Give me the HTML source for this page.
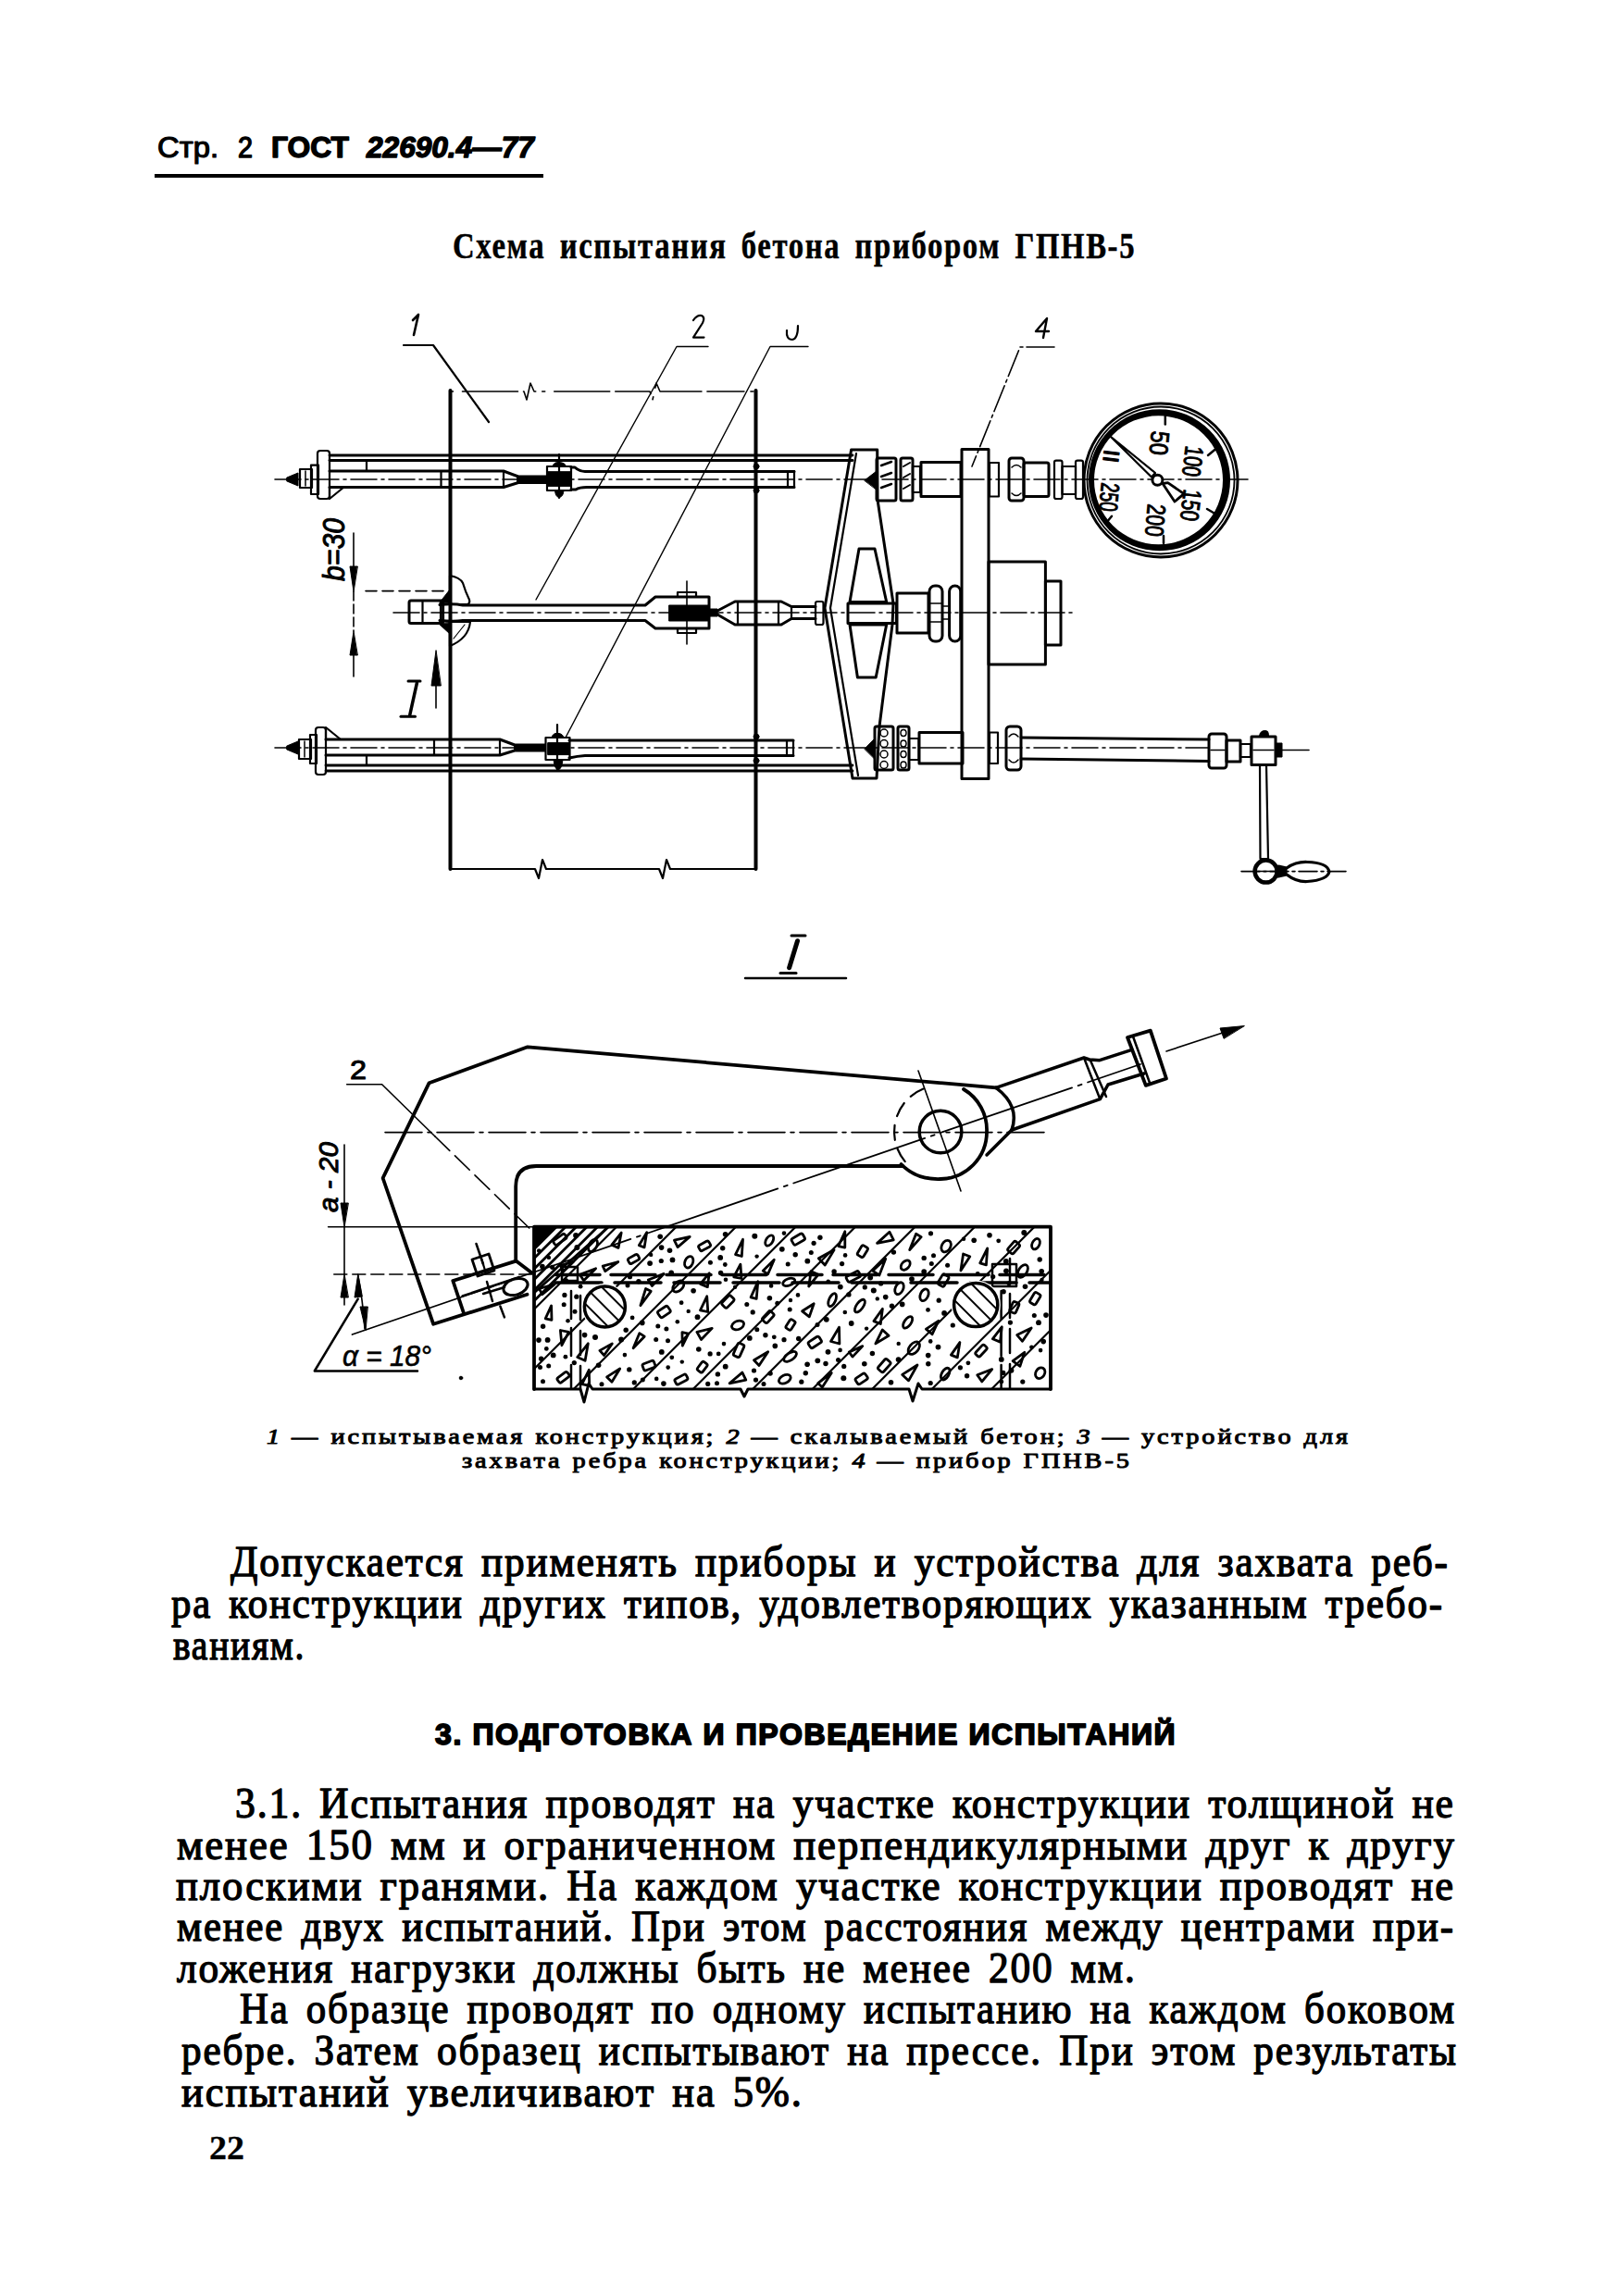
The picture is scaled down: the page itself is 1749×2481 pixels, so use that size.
<!DOCTYPE html>
<html><head><meta charset="utf-8"><style>
html,body{margin:0;padding:0;background:#fff;}
body{width:1749px;height:2481px;overflow:hidden;}
svg{display:block;}
text{fill:#000;}
</style></head><body>
<svg width="1749" height="2481" viewBox="0 0 1749 2481" stroke="#000" stroke-linecap="round" stroke-linejoin="round" fill="none">
<text transform="translate(170.0,169.5) scale(1.0568,1.0)" x="0" y="0" font-family="Liberation Sans, sans-serif" font-size="31" font-weight="normal" font-style="normal" textLength="62.5" lengthAdjust="spacing" stroke="#000" stroke-width="1.2">Стр.</text>
<text transform="translate(257.0,169.5) scale(0.9275,1.0)" x="0" y="0" font-family="Liberation Sans, sans-serif" font-size="31" font-weight="normal" font-style="normal" textLength="17.2" lengthAdjust="spacing" stroke="#000" stroke-width="1.4">2</text>
<text transform="translate(293.0,169.5) scale(1.0263,1.0)" x="0" y="0" font-family="Liberation Sans, sans-serif" font-size="31" font-weight="bold" font-style="normal" textLength="81.8" lengthAdjust="spacing" stroke="#000" stroke-width="1.4">ГОСТ</text>
<text transform="translate(396.0,169.5) scale(1.0194,1.0)" x="0" y="0" font-family="Liberation Sans, sans-serif" font-size="31" font-weight="bold" font-style="italic" textLength="177.5" lengthAdjust="spacing" stroke="#000" stroke-width="1.4">22690.4—77</text>
<line x1="167.0" y1="190.0" x2="587.0" y2="190.0" stroke-width="4" stroke-linecap="butt"/>
<text transform="translate(489.0,279.0) scale(0.8180,1.0)" x="0" y="0" font-family="Liberation Serif, serif" font-size="40" font-weight="bold" font-style="normal" textLength="120.6" lengthAdjust="spacing" stroke="#000" stroke-width="0.5">Схема</text>
<text transform="translate(604.7,279.0) scale(0.8180,1.0)" x="0" y="0" font-family="Liberation Serif, serif" font-size="40" font-weight="bold" font-style="normal" textLength="219.0" lengthAdjust="spacing" stroke="#000" stroke-width="0.5">испытания</text>
<text transform="translate(800.8,279.0) scale(0.8180,1.0)" x="0" y="0" font-family="Liberation Serif, serif" font-size="40" font-weight="bold" font-style="normal" textLength="129.4" lengthAdjust="spacing" stroke="#000" stroke-width="0.5">бетона</text>
<text transform="translate(923.6,279.0) scale(0.8180,1.0)" x="0" y="0" font-family="Liberation Serif, serif" font-size="40" font-weight="bold" font-style="normal" textLength="190.5" lengthAdjust="spacing" stroke="#000" stroke-width="0.5">прибором</text>
<text transform="translate(1096.5,279.0) scale(0.8180,1.0)" x="0" y="0" font-family="Liberation Serif, serif" font-size="40" font-weight="bold" font-style="normal" textLength="157.7" lengthAdjust="spacing" stroke="#000" stroke-width="0.5">ГПНВ-5</text>
<text transform="translate(288.0,1560.0) scale(1.1785,1.0)" x="0" y="0" font-family="Liberation Serif, serif" font-size="24" font-weight="normal" font-style="normal" textLength="47.0" lengthAdjust="spacing" stroke="#000" stroke-width="1.0"><tspan font-style="italic">1</tspan> —</text>
<text transform="translate(357.4,1560.0) scale(1.1785,1.0)" x="0" y="0" font-family="Liberation Serif, serif" font-size="24" font-weight="normal" font-style="normal" textLength="175.6" lengthAdjust="spacing" stroke="#000" stroke-width="1.0">испытываемая</text>
<text transform="translate(578.4,1560.0) scale(1.1785,1.0)" x="0" y="0" font-family="Liberation Serif, serif" font-size="24" font-weight="normal" font-style="normal" textLength="163.0" lengthAdjust="spacing" stroke="#000" stroke-width="1.0">конструкция;</text>
<text transform="translate(784.4,1560.0) scale(1.1785,1.0)" x="0" y="0" font-family="Liberation Serif, serif" font-size="24" font-weight="normal" font-style="normal" textLength="47.0" lengthAdjust="spacing" stroke="#000" stroke-width="1.0"><tspan font-style="italic">2</tspan> —</text>
<text transform="translate(853.8,1560.0) scale(1.1785,1.0)" x="0" y="0" font-family="Liberation Serif, serif" font-size="24" font-weight="normal" font-style="normal" textLength="162.4" lengthAdjust="spacing" stroke="#000" stroke-width="1.0">скалываемый</text>
<text transform="translate(1059.2,1560.0) scale(1.1785,1.0)" x="0" y="0" font-family="Liberation Serif, serif" font-size="24" font-weight="normal" font-style="normal" textLength="76.7" lengthAdjust="spacing" stroke="#000" stroke-width="1.0">бетон;</text>
<text transform="translate(1163.6,1560.0) scale(1.1785,1.0)" x="0" y="0" font-family="Liberation Serif, serif" font-size="24" font-weight="normal" font-style="normal" textLength="47.0" lengthAdjust="spacing" stroke="#000" stroke-width="1.0"><tspan font-style="italic">3</tspan> —</text>
<text transform="translate(1233.0,1560.0) scale(1.1785,1.0)" x="0" y="0" font-family="Liberation Serif, serif" font-size="24" font-weight="normal" font-style="normal" textLength="137.1" lengthAdjust="spacing" stroke="#000" stroke-width="1.0">устройство</text>
<text transform="translate(1408.6,1560.0) scale(1.1785,1.0)" x="0" y="0" font-family="Liberation Serif, serif" font-size="24" font-weight="normal" font-style="normal" textLength="40.2" lengthAdjust="spacing" stroke="#000" stroke-width="1.0">для</text>
<text transform="translate(499.0,1585.5) scale(1.1786,1.0)" x="0" y="0" font-family="Liberation Serif, serif" font-size="24" font-weight="normal" font-style="normal" textLength="89.6" lengthAdjust="spacing" stroke="#000" stroke-width="1.0">захвата</text>
<text transform="translate(618.6,1585.5) scale(1.1786,1.0)" x="0" y="0" font-family="Liberation Serif, serif" font-size="24" font-weight="normal" font-style="normal" textLength="67.5" lengthAdjust="spacing" stroke="#000" stroke-width="1.0">ребра</text>
<text transform="translate(712.2,1585.5) scale(1.1786,1.0)" x="0" y="0" font-family="Liberation Serif, serif" font-size="24" font-weight="normal" font-style="normal" textLength="164.8" lengthAdjust="spacing" stroke="#000" stroke-width="1.0">конструкции;</text>
<text transform="translate(920.4,1585.5) scale(1.1786,1.0)" x="0" y="0" font-family="Liberation Serif, serif" font-size="24" font-weight="normal" font-style="normal" textLength="47.0" lengthAdjust="spacing" stroke="#000" stroke-width="1.0"><tspan font-style="italic">4</tspan> —</text>
<text transform="translate(989.8,1585.5) scale(1.1786,1.0)" x="0" y="0" font-family="Liberation Serif, serif" font-size="24" font-weight="normal" font-style="normal" textLength="86.4" lengthAdjust="spacing" stroke="#000" stroke-width="1.0">прибор</text>
<text transform="translate(1105.6,1585.5) scale(1.1786,1.0)" x="0" y="0" font-family="Liberation Serif, serif" font-size="24" font-weight="normal" font-style="normal" textLength="97.0" lengthAdjust="spacing" stroke="#000" stroke-width="1.0">ГПНВ-5</text>
<text transform="translate(249.0,1703.0) scale(0.9397,1.0)" x="0" y="0" font-family="Liberation Serif, serif" font-size="46" font-weight="normal" font-style="normal" textLength="267.1" lengthAdjust="spacing" stroke="#000" stroke-width="1.35">Допускается</text>
<text transform="translate(520.0,1703.0) scale(0.9397,1.0)" x="0" y="0" font-family="Liberation Serif, serif" font-size="46" font-weight="normal" font-style="normal" textLength="224.6" lengthAdjust="spacing" stroke="#000" stroke-width="1.35">применять</text>
<text transform="translate(751.1,1703.0) scale(0.9397,1.0)" x="0" y="0" font-family="Liberation Serif, serif" font-size="46" font-weight="normal" font-style="normal" textLength="184.5" lengthAdjust="spacing" stroke="#000" stroke-width="1.35">приборы</text>
<text transform="translate(944.5,1703.0) scale(0.9397,1.0)" x="0" y="0" font-family="Liberation Serif, serif" font-size="46" font-weight="normal" font-style="normal" textLength="24.6" lengthAdjust="spacing" stroke="#000" stroke-width="1.35">и</text>
<text transform="translate(987.7,1703.0) scale(0.9397,1.0)" x="0" y="0" font-family="Liberation Serif, serif" font-size="46" font-weight="normal" font-style="normal" textLength="234.8" lengthAdjust="spacing" stroke="#000" stroke-width="1.35">устройства</text>
<text transform="translate(1228.3,1703.0) scale(0.9397,1.0)" x="0" y="0" font-family="Liberation Serif, serif" font-size="46" font-weight="normal" font-style="normal" textLength="71.5" lengthAdjust="spacing" stroke="#000" stroke-width="1.35">для</text>
<text transform="translate(1315.5,1703.0) scale(0.9397,1.0)" x="0" y="0" font-family="Liberation Serif, serif" font-size="46" font-weight="normal" font-style="normal" textLength="155.0" lengthAdjust="spacing" stroke="#000" stroke-width="1.35">захвата</text>
<text transform="translate(1481.2,1703.0) scale(0.9397,1.0)" x="0" y="0" font-family="Liberation Serif, serif" font-size="46" font-weight="normal" font-style="normal" textLength="88.1" lengthAdjust="spacing" stroke="#000" stroke-width="1.35">реб-</text>
<text transform="translate(185.0,1748.0) scale(0.9306,1.0)" x="0" y="0" font-family="Liberation Serif, serif" font-size="46" font-weight="normal" font-style="normal" textLength="45.4" lengthAdjust="spacing" stroke="#000" stroke-width="1.35">ра</text>
<text transform="translate(247.3,1748.0) scale(0.9306,1.0)" x="0" y="0" font-family="Liberation Serif, serif" font-size="46" font-weight="normal" font-style="normal" textLength="270.3" lengthAdjust="spacing" stroke="#000" stroke-width="1.35">конструкции</text>
<text transform="translate(518.8,1748.0) scale(0.9306,1.0)" x="0" y="0" font-family="Liberation Serif, serif" font-size="46" font-weight="normal" font-style="normal" textLength="145.3" lengthAdjust="spacing" stroke="#000" stroke-width="1.35">других</text>
<text transform="translate(674.1,1748.0) scale(0.9306,1.0)" x="0" y="0" font-family="Liberation Serif, serif" font-size="46" font-weight="normal" font-style="normal" textLength="135.6" lengthAdjust="spacing" stroke="#000" stroke-width="1.35">типов,</text>
<text transform="translate(820.2,1748.0) scale(0.9306,1.0)" x="0" y="0" font-family="Liberation Serif, serif" font-size="46" font-weight="normal" font-style="normal" textLength="385.1" lengthAdjust="spacing" stroke="#000" stroke-width="1.35">удовлетворяющих</text>
<text transform="translate(1198.6,1748.0) scale(0.9306,1.0)" x="0" y="0" font-family="Liberation Serif, serif" font-size="46" font-weight="normal" font-style="normal" textLength="228.9" lengthAdjust="spacing" stroke="#000" stroke-width="1.35">указанным</text>
<text transform="translate(1431.6,1748.0) scale(0.9306,1.0)" x="0" y="0" font-family="Liberation Serif, serif" font-size="46" font-weight="normal" font-style="normal" textLength="135.8" lengthAdjust="spacing" stroke="#000" stroke-width="1.35">требо-</text>
<text transform="translate(187.0,1793.0) scale(0.8600,1.0)" x="0" y="0" font-family="Liberation Serif, serif" font-size="46" font-weight="normal" font-style="normal" textLength="164.5" lengthAdjust="spacing" stroke="#000" stroke-width="1.35">ваниям.</text>
<text transform="translate(470.0,1884.5) scale(1.0000,1.0)" x="0" y="0" font-family="Liberation Sans, sans-serif" font-size="32" font-weight="bold" font-style="normal" textLength="799.6" lengthAdjust="spacing" stroke="#000" stroke-width="1.8">3.  ПОДГОТОВКА  И  ПРОВЕДЕНИЕ  ИСПЫТАНИЙ</text>
<text transform="translate(254.0,1963.5) scale(0.9294,1.0)" x="0" y="0" font-family="Liberation Serif, serif" font-size="47" font-weight="normal" font-style="normal" textLength="76.5" lengthAdjust="spacing" stroke="#000" stroke-width="1.35">3.1.</text>
<text transform="translate(345.1,1963.5) scale(0.9294,1.0)" x="0" y="0" font-family="Liberation Serif, serif" font-size="47" font-weight="normal" font-style="normal" textLength="241.4" lengthAdjust="spacing" stroke="#000" stroke-width="1.35">Испытания</text>
<text transform="translate(589.5,1963.5) scale(0.9294,1.0)" x="0" y="0" font-family="Liberation Serif, serif" font-size="47" font-weight="normal" font-style="normal" textLength="196.2" lengthAdjust="spacing" stroke="#000" stroke-width="1.35">проводят</text>
<text transform="translate(791.9,1963.5) scale(0.9294,1.0)" x="0" y="0" font-family="Liberation Serif, serif" font-size="47" font-weight="normal" font-style="normal" textLength="48.0" lengthAdjust="spacing" stroke="#000" stroke-width="1.35">на</text>
<text transform="translate(856.5,1963.5) scale(0.9294,1.0)" x="0" y="0" font-family="Liberation Serif, serif" font-size="47" font-weight="normal" font-style="normal" textLength="163.9" lengthAdjust="spacing" stroke="#000" stroke-width="1.35">участке</text>
<text transform="translate(1028.9,1963.5) scale(0.9294,1.0)" x="0" y="0" font-family="Liberation Serif, serif" font-size="47" font-weight="normal" font-style="normal" textLength="275.8" lengthAdjust="spacing" stroke="#000" stroke-width="1.35">конструкции</text>
<text transform="translate(1305.2,1963.5) scale(0.9294,1.0)" x="0" y="0" font-family="Liberation Serif, serif" font-size="47" font-weight="normal" font-style="normal" textLength="215.4" lengthAdjust="spacing" stroke="#000" stroke-width="1.35">толщиной</text>
<text transform="translate(1525.4,1963.5) scale(0.9294,1.0)" x="0" y="0" font-family="Liberation Serif, serif" font-size="47" font-weight="normal" font-style="normal" textLength="48.0" lengthAdjust="spacing" stroke="#000" stroke-width="1.35">не</text>
<text transform="translate(191.0,2008.5) scale(0.9544,1.0)" x="0" y="0" font-family="Liberation Serif, serif" font-size="47" font-weight="normal" font-style="normal" textLength="125.5" lengthAdjust="spacing" stroke="#000" stroke-width="1.35">менее</text>
<text transform="translate(330.8,2008.5) scale(0.9544,1.0)" x="0" y="0" font-family="Liberation Serif, serif" font-size="47" font-weight="normal" font-style="normal" textLength="74.5" lengthAdjust="spacing" stroke="#000" stroke-width="1.35">150</text>
<text transform="translate(421.9,2008.5) scale(0.9544,1.0)" x="0" y="0" font-family="Liberation Serif, serif" font-size="47" font-weight="normal" font-style="normal" textLength="61.5" lengthAdjust="spacing" stroke="#000" stroke-width="1.35">мм</text>
<text transform="translate(500.6,2008.5) scale(0.9544,1.0)" x="0" y="0" font-family="Liberation Serif, serif" font-size="47" font-weight="normal" font-style="normal" textLength="25.2" lengthAdjust="spacing" stroke="#000" stroke-width="1.35">и</text>
<text transform="translate(544.6,2008.5) scale(0.9544,1.0)" x="0" y="0" font-family="Liberation Serif, serif" font-size="47" font-weight="normal" font-style="normal" textLength="306.6" lengthAdjust="spacing" stroke="#000" stroke-width="1.35">ограниченном</text>
<text transform="translate(857.2,2008.5) scale(0.9544,1.0)" x="0" y="0" font-family="Liberation Serif, serif" font-size="47" font-weight="normal" font-style="normal" textLength="445.5" lengthAdjust="spacing" stroke="#000" stroke-width="1.35">перпендикулярными</text>
<text transform="translate(1302.4,2008.5) scale(0.9544,1.0)" x="0" y="0" font-family="Liberation Serif, serif" font-size="47" font-weight="normal" font-style="normal" textLength="95.6" lengthAdjust="spacing" stroke="#000" stroke-width="1.35">друг</text>
<text transform="translate(1413.6,2008.5) scale(0.9544,1.0)" x="0" y="0" font-family="Liberation Serif, serif" font-size="47" font-weight="normal" font-style="normal" textLength="22.8" lengthAdjust="spacing" stroke="#000" stroke-width="1.35">к</text>
<text transform="translate(1455.4,2008.5) scale(0.9544,1.0)" x="0" y="0" font-family="Liberation Serif, serif" font-size="47" font-weight="normal" font-style="normal" textLength="121.1" lengthAdjust="spacing" stroke="#000" stroke-width="1.35">другу</text>
<text transform="translate(190.0,2053.0) scale(0.9505,1.0)" x="0" y="0" font-family="Liberation Serif, serif" font-size="47" font-weight="normal" font-style="normal" textLength="211.0" lengthAdjust="spacing" stroke="#000" stroke-width="1.35">плоскими</text>
<text transform="translate(410.6,2053.0) scale(0.9505,1.0)" x="0" y="0" font-family="Liberation Serif, serif" font-size="47" font-weight="normal" font-style="normal" textLength="191.1" lengthAdjust="spacing" stroke="#000" stroke-width="1.35">гранями.</text>
<text transform="translate(612.2,2053.0) scale(0.9505,1.0)" x="0" y="0" font-family="Liberation Serif, serif" font-size="47" font-weight="normal" font-style="normal" textLength="56.8" lengthAdjust="spacing" stroke="#000" stroke-width="1.35">На</text>
<text transform="translate(686.2,2053.0) scale(0.9505,1.0)" x="0" y="0" font-family="Liberation Serif, serif" font-size="47" font-weight="normal" font-style="normal" textLength="161.7" lengthAdjust="spacing" stroke="#000" stroke-width="1.35">каждом</text>
<text transform="translate(859.9,2053.0) scale(0.9505,1.0)" x="0" y="0" font-family="Liberation Serif, serif" font-size="47" font-weight="normal" font-style="normal" textLength="163.9" lengthAdjust="spacing" stroke="#000" stroke-width="1.35">участке</text>
<text transform="translate(1035.7,2053.0) scale(0.9505,1.0)" x="0" y="0" font-family="Liberation Serif, serif" font-size="47" font-weight="normal" font-style="normal" textLength="275.8" lengthAdjust="spacing" stroke="#000" stroke-width="1.35">конструкции</text>
<text transform="translate(1317.8,2053.0) scale(0.9505,1.0)" x="0" y="0" font-family="Liberation Serif, serif" font-size="47" font-weight="normal" font-style="normal" textLength="196.2" lengthAdjust="spacing" stroke="#000" stroke-width="1.35">проводят</text>
<text transform="translate(1524.4,2053.0) scale(0.9505,1.0)" x="0" y="0" font-family="Liberation Serif, serif" font-size="47" font-weight="normal" font-style="normal" textLength="48.0" lengthAdjust="spacing" stroke="#000" stroke-width="1.35">не</text>
<text transform="translate(191.0,2097.0) scale(0.9113,1.0)" x="0" y="0" font-family="Liberation Serif, serif" font-size="47" font-weight="normal" font-style="normal" textLength="125.5" lengthAdjust="spacing" stroke="#000" stroke-width="1.35">менее</text>
<text transform="translate(325.4,2097.0) scale(0.9113,1.0)" x="0" y="0" font-family="Liberation Serif, serif" font-size="47" font-weight="normal" font-style="normal" textLength="97.5" lengthAdjust="spacing" stroke="#000" stroke-width="1.35">двух</text>
<text transform="translate(434.2,2097.0) scale(0.9113,1.0)" x="0" y="0" font-family="Liberation Serif, serif" font-size="47" font-weight="normal" font-style="normal" textLength="249.9" lengthAdjust="spacing" stroke="#000" stroke-width="1.35">испытаний.</text>
<text transform="translate(682.0,2097.0) scale(0.9113,1.0)" x="0" y="0" font-family="Liberation Serif, serif" font-size="47" font-weight="normal" font-style="normal" textLength="86.6" lengthAdjust="spacing" stroke="#000" stroke-width="1.35">При</text>
<text transform="translate(780.9,2097.0) scale(0.9113,1.0)" x="0" y="0" font-family="Liberation Serif, serif" font-size="47" font-weight="normal" font-style="normal" textLength="98.5" lengthAdjust="spacing" stroke="#000" stroke-width="1.35">этом</text>
<text transform="translate(890.6,2097.0) scale(0.9113,1.0)" x="0" y="0" font-family="Liberation Serif, serif" font-size="47" font-weight="normal" font-style="normal" textLength="240.2" lengthAdjust="spacing" stroke="#000" stroke-width="1.35">расстояния</text>
<text transform="translate(1129.5,2097.0) scale(0.9113,1.0)" x="0" y="0" font-family="Liberation Serif, serif" font-size="47" font-weight="normal" font-style="normal" textLength="138.5" lengthAdjust="spacing" stroke="#000" stroke-width="1.35">между</text>
<text transform="translate(1275.7,2097.0) scale(0.9113,1.0)" x="0" y="0" font-family="Liberation Serif, serif" font-size="47" font-weight="normal" font-style="normal" textLength="205.5" lengthAdjust="spacing" stroke="#000" stroke-width="1.35">центрами</text>
<text transform="translate(1483.0,2097.0) scale(0.9113,1.0)" x="0" y="0" font-family="Liberation Serif, serif" font-size="47" font-weight="normal" font-style="normal" textLength="95.5" lengthAdjust="spacing" stroke="#000" stroke-width="1.35">при-</text>
<text transform="translate(191.0,2142.0) scale(0.9219,1.0)" x="0" y="0" font-family="Liberation Serif, serif" font-size="47" font-weight="normal" font-style="normal" textLength="182.4" lengthAdjust="spacing" stroke="#000" stroke-width="1.35">ложения</text>
<text transform="translate(379.2,2142.0) scale(0.9219,1.0)" x="0" y="0" font-family="Liberation Serif, serif" font-size="47" font-weight="normal" font-style="normal" textLength="192.2" lengthAdjust="spacing" stroke="#000" stroke-width="1.35">нагрузки</text>
<text transform="translate(576.4,2142.0) scale(0.9219,1.0)" x="0" y="0" font-family="Liberation Serif, serif" font-size="47" font-weight="normal" font-style="normal" textLength="169.5" lengthAdjust="spacing" stroke="#000" stroke-width="1.35">должны</text>
<text transform="translate(752.6,2142.0) scale(0.9219,1.0)" x="0" y="0" font-family="Liberation Serif, serif" font-size="47" font-weight="normal" font-style="normal" textLength="103.5" lengthAdjust="spacing" stroke="#000" stroke-width="1.35">быть</text>
<text transform="translate(868.0,2142.0) scale(0.9219,1.0)" x="0" y="0" font-family="Liberation Serif, serif" font-size="47" font-weight="normal" font-style="normal" textLength="48.0" lengthAdjust="spacing" stroke="#000" stroke-width="1.35">не</text>
<text transform="translate(932.3,2142.0) scale(0.9219,1.0)" x="0" y="0" font-family="Liberation Serif, serif" font-size="47" font-weight="normal" font-style="normal" textLength="125.5" lengthAdjust="spacing" stroke="#000" stroke-width="1.35">менее</text>
<text transform="translate(1068.0,2142.0) scale(0.9219,1.0)" x="0" y="0" font-family="Liberation Serif, serif" font-size="47" font-weight="normal" font-style="normal" textLength="74.5" lengthAdjust="spacing" stroke="#000" stroke-width="1.35">200</text>
<text transform="translate(1156.6,2142.0) scale(0.9219,1.0)" x="0" y="0" font-family="Liberation Serif, serif" font-size="47" font-weight="normal" font-style="normal" textLength="75.2" lengthAdjust="spacing" stroke="#000" stroke-width="1.35">мм.</text>
<text transform="translate(259.0,2186.0) scale(0.9124,1.0)" x="0" y="0" font-family="Liberation Serif, serif" font-size="47" font-weight="normal" font-style="normal" textLength="56.8" lengthAdjust="spacing" stroke="#000" stroke-width="1.35">На</text>
<text transform="translate(330.8,2186.0) scale(0.9124,1.0)" x="0" y="0" font-family="Liberation Serif, serif" font-size="47" font-weight="normal" font-style="normal" textLength="168.4" lengthAdjust="spacing" stroke="#000" stroke-width="1.35">образце</text>
<text transform="translate(504.4,2186.0) scale(0.9124,1.0)" x="0" y="0" font-family="Liberation Serif, serif" font-size="47" font-weight="normal" font-style="normal" textLength="196.2" lengthAdjust="spacing" stroke="#000" stroke-width="1.35">проводят</text>
<text transform="translate(703.5,2186.0) scale(0.9124,1.0)" x="0" y="0" font-family="Liberation Serif, serif" font-size="47" font-weight="normal" font-style="normal" textLength="50.7" lengthAdjust="spacing" stroke="#000" stroke-width="1.35">по</text>
<text transform="translate(769.7,2186.0) scale(0.9124,1.0)" x="0" y="0" font-family="Liberation Serif, serif" font-size="47" font-weight="normal" font-style="normal" textLength="157.1" lengthAdjust="spacing" stroke="#000" stroke-width="1.35">одному</text>
<text transform="translate(933.0,2186.0) scale(0.9124,1.0)" x="0" y="0" font-family="Liberation Serif, serif" font-size="47" font-weight="normal" font-style="normal" textLength="246.1" lengthAdjust="spacing" stroke="#000" stroke-width="1.35">испытанию</text>
<text transform="translate(1177.6,2186.0) scale(0.9124,1.0)" x="0" y="0" font-family="Liberation Serif, serif" font-size="47" font-weight="normal" font-style="normal" textLength="48.0" lengthAdjust="spacing" stroke="#000" stroke-width="1.35">на</text>
<text transform="translate(1241.4,2186.0) scale(0.9124,1.0)" x="0" y="0" font-family="Liberation Serif, serif" font-size="47" font-weight="normal" font-style="normal" textLength="161.7" lengthAdjust="spacing" stroke="#000" stroke-width="1.35">каждом</text>
<text transform="translate(1409.0,2186.0) scale(0.9124,1.0)" x="0" y="0" font-family="Liberation Serif, serif" font-size="47" font-weight="normal" font-style="normal" textLength="177.6" lengthAdjust="spacing" stroke="#000" stroke-width="1.35">боковом</text>
<text transform="translate(196.0,2231.0) scale(0.9192,1.0)" x="0" y="0" font-family="Liberation Serif, serif" font-size="47" font-weight="normal" font-style="normal" textLength="134.4" lengthAdjust="spacing" stroke="#000" stroke-width="1.35">ребре.</text>
<text transform="translate(339.5,2231.0) scale(0.9192,1.0)" x="0" y="0" font-family="Liberation Serif, serif" font-size="47" font-weight="normal" font-style="normal" textLength="122.3" lengthAdjust="spacing" stroke="#000" stroke-width="1.35">Затем</text>
<text transform="translate(472.0,2231.0) scale(0.9192,1.0)" x="0" y="0" font-family="Liberation Serif, serif" font-size="47" font-weight="normal" font-style="normal" textLength="168.4" lengthAdjust="spacing" stroke="#000" stroke-width="1.35">образец</text>
<text transform="translate(646.7,2231.0) scale(0.9192,1.0)" x="0" y="0" font-family="Liberation Serif, serif" font-size="47" font-weight="normal" font-style="normal" textLength="270.3" lengthAdjust="spacing" stroke="#000" stroke-width="1.35">испытывают</text>
<text transform="translate(915.2,2231.0) scale(0.9192,1.0)" x="0" y="0" font-family="Liberation Serif, serif" font-size="47" font-weight="normal" font-style="normal" textLength="48.0" lengthAdjust="spacing" stroke="#000" stroke-width="1.35">на</text>
<text transform="translate(979.3,2231.0) scale(0.9192,1.0)" x="0" y="0" font-family="Liberation Serif, serif" font-size="47" font-weight="normal" font-style="normal" textLength="157.6" lengthAdjust="spacing" stroke="#000" stroke-width="1.35">прессе.</text>
<text transform="translate(1144.2,2231.0) scale(0.9192,1.0)" x="0" y="0" font-family="Liberation Serif, serif" font-size="47" font-weight="normal" font-style="normal" textLength="86.6" lengthAdjust="spacing" stroke="#000" stroke-width="1.35">При</text>
<text transform="translate(1243.8,2231.0) scale(0.9192,1.0)" x="0" y="0" font-family="Liberation Serif, serif" font-size="47" font-weight="normal" font-style="normal" textLength="98.5" lengthAdjust="spacing" stroke="#000" stroke-width="1.35">этом</text>
<text transform="translate(1354.3,2231.0) scale(0.9192,1.0)" x="0" y="0" font-family="Liberation Serif, serif" font-size="47" font-weight="normal" font-style="normal" textLength="237.9" lengthAdjust="spacing" stroke="#000" stroke-width="1.35">результаты</text>
<text transform="translate(196.0,2276.0) scale(0.9476,1.0)" x="0" y="0" font-family="Liberation Serif, serif" font-size="47" font-weight="normal" font-style="normal" textLength="236.2" lengthAdjust="spacing" stroke="#000" stroke-width="1.35">испытаний</text>
<text transform="translate(439.8,2276.0) scale(0.9476,1.0)" x="0" y="0" font-family="Liberation Serif, serif" font-size="47" font-weight="normal" font-style="normal" textLength="281.1" lengthAdjust="spacing" stroke="#000" stroke-width="1.35">увеличивают</text>
<text transform="translate(726.2,2276.0) scale(0.9476,1.0)" x="0" y="0" font-family="Liberation Serif, serif" font-size="47" font-weight="normal" font-style="normal" textLength="48.0" lengthAdjust="spacing" stroke="#000" stroke-width="1.35">на</text>
<text transform="translate(791.7,2276.0) scale(0.9476,1.0)" x="0" y="0" font-family="Liberation Serif, serif" font-size="47" font-weight="normal" font-style="normal" textLength="78.4" lengthAdjust="spacing" stroke="#000" stroke-width="1.35">5%.</text>
<text transform="translate(226.0,2333.0) scale(1.0857,1.0)" x="0" y="0" font-family="Liberation Serif, serif" font-size="35" font-weight="bold" font-style="normal" textLength="35.0" lengthAdjust="spacing" stroke="#000" stroke-width="0.3">22</text>
<line x1="486.5" y1="422.0" x2="486.5" y2="939.0" stroke-width="4" />
<line x1="816.5" y1="422.0" x2="816.5" y2="939.0" stroke-width="4" />
<path d="M486.5,423 L566,423 L569,432 L573,414 L577,423 L702,423 L705,432 L709,414 L713,423 L816.5,423" stroke-width="1.6" fill="none" stroke-dasharray="3 10 60 6 40 7"/>
<path d="M486.5,939 L578,939 L582,949 L586,929 L590,939 L712,939 L716,949 L720,929 L724,939 L816.5,939" stroke-width="2.2" fill="none" />
<path d="M446,346 L452,340 L447,362" stroke-width="2.6" fill="none" />
<path d="M436,373 L468,373 L528,456" stroke-width="2.2" fill="none" />
<path d="M749,346 Q753,340 758,341 Q762,343 759,349 L749,364.6 L760.5,364.6" stroke-width="2.2" fill="none" />
<path d="M765,374.5 L731,374.5 L579,648" stroke-width="1.4" fill="none" />
<path d="M850,357 Q849,367 856,367 Q862,366 862,352" stroke-width="2.2" fill="none" />
<path d="M873,374.5 L832,374.5 L611,797" stroke-width="1.4" fill="none" />
<path d="M1127,365 L1131,344 L1119,358 L1133,358" stroke-width="2.4" fill="none" />
<path d="M1139,375 L1102,375 L1050,504" stroke-width="1.6" fill="none" stroke-dasharray="30 4 3 4"/>
<text x="0" y="0" font-family="Liberation Sans, sans-serif" font-size="34" font-style="italic" transform="translate(372,628) rotate(-90)" textLength="68" lengthAdjust="spacingAndGlyphs">b=30</text>
<line x1="382.0" y1="576.0" x2="382.0" y2="614.0" stroke-width="1.6" />
<polygon points="382.0,639.0 378.0,612.0 386.0,612.0" stroke-width="1" fill="#000" />
<line x1="382.0" y1="639.0" x2="382.0" y2="682.0" stroke-width="1.6" stroke-dasharray="10 4"/>
<polygon points="382.0,682.5 378.0,708.0 386.0,708.0" stroke-width="1" fill="#000" />
<line x1="382.0" y1="708.0" x2="382.0" y2="731.0" stroke-width="1.6" />
<line x1="395.0" y1="638.6" x2="483.0" y2="638.6" stroke-width="1.6" stroke-dasharray="12 6"/>
<line x1="471.0" y1="740.0" x2="471.0" y2="765.0" stroke-width="1.6" />
<polygon points="471.0,703.0 466.0,741.0 476.0,741.0" stroke-width="1" fill="#000" />
<line x1="441.0" y1="736.0" x2="454.0" y2="736.0" stroke-width="3" />
<line x1="450.4" y1="738.0" x2="442.8" y2="772.3" stroke-width="3.5" />
<line x1="433.0" y1="774.3" x2="448.5" y2="774.3" stroke-width="3" />
<line x1="297.0" y1="518.0" x2="1348.0" y2="518.0" stroke-width="1.6" stroke-dasharray="28 5 3 5"/>
<polygon points="310.0,516.0 322.0,511.0 322.0,525.0 310.0,520.0" stroke-width="1" fill="#000" />
<rect x="324.0" y="507.0" width="13.0" height="20.0" rx="0" stroke-width="2.2" fill="none" />
<rect x="336.0" y="502.6" width="8.0" height="31.4" rx="0" stroke-width="2.2" fill="none" />
<line x1="330.0" y1="509.0" x2="330.0" y2="525.0" stroke-width="1.5" />
<rect x="343.0" y="487.0" width="13.0" height="52.0" rx="3" stroke-width="2.2" fill="none" />
<polygon points="356.0,526.0 372.0,526.0 356.0,539.0" stroke-width="2.2" fill="none" />
<line x1="356.0" y1="492.0" x2="921.0" y2="492.0" stroke-width="2.8" />
<line x1="356.0" y1="497.5" x2="921.0" y2="497.5" stroke-width="2.8" />
<line x1="396.0" y1="497.5" x2="396.0" y2="509.0" stroke-width="2.2" />
<path d="M356,509 L544,509 L560,515 L591,515 M356,526.5 L544,526.5 L560,521.5 L591,521.5" stroke-width="3.0" fill="none" />
<line x1="476.5" y1="509.0" x2="476.5" y2="526.5" stroke-width="2.2" />
<line x1="544.0" y1="509.0" x2="544.0" y2="526.5" stroke-width="2.2" />
<rect x="559.0" y="514.5" width="32.0" height="7.5" rx="0" stroke-width="1" fill="#000" />
<rect x="591.0" y="504.0" width="26.0" height="26.0" rx="0" stroke-width="2.2" fill="#fff" />
<rect x="592.0" y="509.7" width="25.0" height="15.7" rx="0" stroke-width="1" fill="#000" />
<path d="M597,504 Q598,499 604,499.5 Q611,500 611.5,504 Z" stroke-width="1" fill="#000" />
<path d="M599.5,530 Q600,537 604,537.5 Q608.5,537 609,530 Z" stroke-width="1" fill="#000" />
<line x1="604.0" y1="491.0" x2="604.0" y2="538.0" stroke-width="2.2" />
<path d="M617,505 L621,505 Q625,509 632,509.5 L858,509.5 M617,529 L622,529 Q626,526.5 634,526.5 L858,526.5" stroke-width="3.0" fill="none" />
<rect x="851.0" y="509.0" width="7.0" height="17.0" rx="0" stroke-width="2.2" fill="none" />
<circle cx="817.0" cy="504.0" r="3.0" stroke-width="1" fill="#000" />
<circle cx="817.0" cy="530.0" r="3.0" stroke-width="1" fill="#000" />
<line x1="425.0" y1="662.0" x2="1161.0" y2="662.0" stroke-width="1.6" stroke-dasharray="28 5 3 5"/>
<rect x="442.0" y="649.0" width="36.6" height="24.5" rx="2" stroke-width="3.0" fill="none" />
<line x1="456.5" y1="649.0" x2="456.5" y2="673.5" stroke-width="2.2" />
<line x1="476.0" y1="649.0" x2="476.0" y2="673.5" stroke-width="2.2" />
<polygon points="475.0,651.0 486.0,637.0 486.0,652.0" stroke-width="1" fill="#000" />
<polygon points="474.0,674.0 486.0,685.0 486.0,673.0" stroke-width="1" fill="#000" />
<path d="M486,622 Q497,624 500,630 Q503,640 507,648 Q508,652 505,653 L486,653 Z" stroke-width="2.2" fill="none" />
<path d="M486,672 L508,672 Q506,690 486,698 Z" stroke-width="2.2" fill="none" />
<line x1="490.0" y1="690.0" x2="502.0" y2="675.0" stroke-width="1.2" />
<path d="M475,653.5 Q490,652 500,654 L697,654 L708,645 L766,645 L766,679 L708,679 L697,670.5 L500,670.5 Q490,672 475,670.5" stroke-width="3.0" fill="none" />
<rect x="723.0" y="654.0" width="43.0" height="17.0" rx="0" stroke-width="1" fill="#000" />
<rect x="732.0" y="640.0" width="20.0" height="5.0" rx="0" stroke-width="2.2" fill="none" />
<rect x="732.0" y="679.0" width="20.0" height="5.0" rx="0" stroke-width="2.2" fill="none" />
<line x1="742.0" y1="628.0" x2="742.0" y2="696.0" stroke-width="1.6" />
<rect x="766.0" y="658.0" width="9.0" height="8.0" rx="0" stroke-width="1" fill="#000" />
<path d="M775,660 L794,650 L844,650 L855,655.5 L881,655.5 M775,664 L794,675 L844,675 L855,668.5 L881,668.5" stroke-width="3.0" fill="none" />
<line x1="797.0" y1="650.0" x2="797.0" y2="675.0" stroke-width="2.2" />
<line x1="841.0" y1="650.0" x2="841.0" y2="675.0" stroke-width="2.2" />
<line x1="855.0" y1="655.5" x2="855.0" y2="668.5" stroke-width="2.2" />
<rect x="881.0" y="650.0" width="8.5" height="25.0" rx="2" stroke-width="2.2" fill="none" />
<line x1="297.0" y1="808.0" x2="1306.0" y2="808.0" stroke-width="1.6" stroke-dasharray="28 5 3 5"/>
<polygon points="310.0,806.0 322.0,801.0 322.0,815.0 310.0,810.0" stroke-width="1" fill="#000" />
<rect x="323.0" y="799.0" width="13.0" height="21.0" rx="0" stroke-width="2.2" fill="none" />
<rect x="335.0" y="794.0" width="7.0" height="31.0" rx="0" stroke-width="2.2" fill="none" />
<line x1="329.0" y1="801.0" x2="329.0" y2="818.0" stroke-width="1.5" />
<rect x="341.0" y="786.0" width="11.0" height="51.0" rx="3" stroke-width="2.2" fill="none" />
<polygon points="352.0,786.0 368.0,799.0 352.0,799.0" stroke-width="2.2" fill="none" />
<line x1="352.0" y1="827.0" x2="921.0" y2="827.0" stroke-width="2.8" />
<line x1="352.0" y1="833.0" x2="921.0" y2="833.0" stroke-width="2.8" />
<line x1="396.0" y1="816.0" x2="396.0" y2="827.0" stroke-width="2.2" />
<path d="M352,799 L540,799 L556,805 L589,805 M352,816 L540,816 L556,811 L589,811" stroke-width="3.0" fill="none" />
<line x1="469.0" y1="799.0" x2="469.0" y2="816.0" stroke-width="2.2" />
<line x1="540.0" y1="799.0" x2="540.0" y2="816.0" stroke-width="2.2" />
<rect x="556.0" y="804.5" width="34.0" height="7.0" rx="0" stroke-width="1" fill="#000" />
<rect x="589.5" y="797.0" width="26.0" height="24.0" rx="0" stroke-width="2.2" fill="#fff" />
<rect x="592.0" y="802.6" width="23.5" height="13.0" rx="0" stroke-width="1" fill="#000" />
<path d="M596,797 Q597,792 602.5,792.4 Q608,792.5 609,797 Z" stroke-width="1" fill="#000" />
<path d="M598,821 Q599,831 603,832 Q607,831 608,821 Z" stroke-width="1" fill="#000" />
<line x1="602.0" y1="783.0" x2="602.0" y2="833.0" stroke-width="2.2" />
<path d="M615,800 Q624,800 630,800 L857,800 M615,819 Q624,817 632,816.5 L857,816.5" stroke-width="3.0" fill="none" />
<rect x="850.0" y="800.0" width="7.0" height="16.5" rx="0" stroke-width="2.2" fill="none" />
<circle cx="817.0" cy="796.0" r="3.0" stroke-width="1" fill="#000" />
<circle cx="817.0" cy="822.0" r="3.0" stroke-width="1" fill="#000" />
<polygon points="919.6,486.0 947.7,486.0 948.0,540.0 965.0,652.0 964.0,675.0 950.0,785.0 947.0,841.0 921.0,841.0 891.0,657.0" stroke-width="3.0" fill="none" />
<path d="M925,490 L897,657 L927,838" stroke-width="2.2" fill="none" />
<polygon points="928.0,593.0 945.0,593.0 957.7,650.5 918.0,650.5" stroke-width="3.0" fill="none" />
<polygon points="918.0,675.0 957.7,675.0 946.2,732.0 926.4,732.0" stroke-width="3.0" fill="none" />
<rect x="916.0" y="652.0" width="52.4" height="21.6" rx="0" stroke-width="3.0" fill="none" />
<polygon points="934.0,519.0 947.0,509.0 947.0,529.0" stroke-width="1" fill="#000" />
<rect x="947.0" y="495.0" width="21.0" height="46.0" rx="2" stroke-width="3.0" fill="none" />
<line x1="952.0" y1="503.0" x2="963.0" y2="499.0" stroke-width="2.5" />
<line x1="952.0" y1="515.0" x2="963.0" y2="511.0" stroke-width="2.5" />
<line x1="952.0" y1="527.0" x2="963.0" y2="523.0" stroke-width="2.5" />
<rect x="973.0" y="495.0" width="13.0" height="46.0" rx="2" stroke-width="3.0" fill="none" />
<line x1="976.0" y1="504.0" x2="983.0" y2="500.0" stroke-width="2" />
<line x1="976.0" y1="516.0" x2="983.0" y2="512.0" stroke-width="2" />
<line x1="976.0" y1="528.0" x2="983.0" y2="524.0" stroke-width="2" />
<rect x="986.0" y="504.0" width="8.0" height="28.0" rx="0" stroke-width="2.2" fill="none" />
<rect x="995.0" y="499.5" width="43.0" height="37.0" rx="0" stroke-width="3.0" fill="none" />
<rect x="1069.0" y="500.0" width="10.0" height="36.5" rx="0" stroke-width="2.2" fill="none" />
<rect x="1090.0" y="495.0" width="16.0" height="46.0" rx="3" stroke-width="3.0" fill="none" />
<path d="M1093,505 Q1098,500 1103,505 M1093,533 Q1098,538 1103,533" stroke-width="1.5" fill="none" />
<rect x="1106.0" y="500.0" width="27.0" height="36.5" rx="2" stroke-width="3.0" fill="none" />
<rect x="1139.0" y="497.6" width="8.5" height="41.4" rx="2" stroke-width="2.2" fill="none" />
<rect x="1147.5" y="504.0" width="14.5" height="30.0" rx="0" stroke-width="2.2" fill="none" />
<rect x="1162.0" y="497.6" width="8.0" height="41.4" rx="2" stroke-width="2.2" fill="none" />
<rect x="1039.0" y="485.6" width="29.0" height="355.9" rx="0" stroke-width="3.0" fill="none" />
<circle cx="1254.0" cy="519.0" r="83.0" stroke-width="3" fill="none" />
<circle cx="1254.0" cy="519.0" r="79.5" stroke-width="1.8" fill="none" />
<path d="M1329,518.8 A76.5,76.5 0 1,0 1176,518.8 A76.5,76.5 0 1,0 1329,518.8 Z M1321,518.8 A69.5,69.5 0 1,0 1182,518.8 A69.5,69.5 0 1,0 1321,518.8 Z" stroke-width="0" fill="#000" fill-rule="evenodd" stroke="none"/>
<line x1="1258.8" y1="449.0" x2="1258.8" y2="458.5" stroke-width="2.5" />
<line x1="1305.0" y1="492.0" x2="1313.5" y2="485.0" stroke-width="2.5" />
<line x1="1304.0" y1="550.0" x2="1312.5" y2="555.0" stroke-width="2.5" />
<line x1="1257.0" y1="579.0" x2="1257.0" y2="587.0" stroke-width="2.5" />
<line x1="1195.0" y1="565.0" x2="1201.0" y2="557.7" stroke-width="2.5" />
<polygon points="1199.5,471.5 1248.0,511.0 1244.0,515.5" stroke-width="2.2" fill="#fff" />
<polygon points="1256.0,522.5 1261.6,521.6 1279.0,533.6 1269.0,542.0" stroke-width="2.8" fill="#fff" />
<circle cx="1250.4" cy="518.8" r="5.5" stroke-width="3" fill="#fff" />
<text x="0" y="0" font-family="Liberation Sans, sans-serif" font-size="28" stroke="#000" stroke-width="1.0" transform="translate(1244,465) rotate(95)" textLength="26" lengthAdjust="spacingAndGlyphs">50</text>
<text x="0" y="0" font-family="Liberation Sans, sans-serif" font-size="28" stroke="#000" stroke-width="1.0" transform="translate(1281,481) rotate(97)" textLength="33" lengthAdjust="spacingAndGlyphs">100</text>
<text x="0" y="0" font-family="Liberation Sans, sans-serif" font-size="28" stroke="#000" stroke-width="1.0" transform="translate(1279,528) rotate(97)" textLength="34" lengthAdjust="spacingAndGlyphs">150</text>
<text x="0" y="0" font-family="Liberation Sans, sans-serif" font-size="28" stroke="#000" stroke-width="1.0" transform="translate(1240,544) rotate(95)" textLength="35" lengthAdjust="spacingAndGlyphs">200</text>
<text x="0" y="0" font-family="Liberation Sans, sans-serif" font-size="28" stroke="#000" stroke-width="1.0" transform="translate(1190,521) rotate(95)" textLength="31" lengthAdjust="spacingAndGlyphs">250</text>
<text x="0" y="0" font-family="Liberation Sans, sans-serif" font-size="24" stroke="#000" stroke-width="1.0" transform="translate(1193,485) rotate(97)" textLength="14" lengthAdjust="spacingAndGlyphs">II</text>
<rect x="969.0" y="641.0" width="34.0" height="43.0" rx="0" stroke-width="3.0" fill="none" />
<rect x="1004.0" y="633.0" width="14.0" height="60.0" rx="6" stroke-width="3.0" fill="none" />
<line x1="1005.0" y1="652.0" x2="1017.0" y2="652.0" stroke-width="1.5" />
<line x1="1005.0" y1="672.0" x2="1017.0" y2="672.0" stroke-width="1.5" />
<rect x="1025.6" y="633.0" width="12.1" height="60.0" rx="6" stroke-width="3.0" fill="none" />
<line x1="1019.0" y1="655.0" x2="1025.0" y2="655.0" stroke-width="1.5" />
<line x1="1019.0" y1="669.0" x2="1025.0" y2="669.0" stroke-width="1.5" />
<rect x="1068.0" y="607.0" width="61.4" height="111.0" rx="0" stroke-width="3.0" fill="none" />
<rect x="1129.4" y="628.0" width="16.6" height="69.0" rx="0" stroke-width="3.0" fill="none" />
<polygon points="934.0,809.0 945.0,798.0 945.0,820.0" stroke-width="1" fill="#000" />
<rect x="945.0" y="785.0" width="20.0" height="47.0" rx="2" stroke-width="3.0" fill="none" />
<ellipse cx="955.0" cy="792.0" rx="4.0" ry="4.0" stroke-width="1.5" fill="none" />
<ellipse cx="955.0" cy="803.5" rx="4.0" ry="4.0" stroke-width="1.5" fill="none" />
<ellipse cx="955.0" cy="815.0" rx="4.0" ry="4.0" stroke-width="1.5" fill="none" />
<ellipse cx="955.0" cy="826.5" rx="4.0" ry="4.0" stroke-width="1.5" fill="none" />
<rect x="970.0" y="785.0" width="12.0" height="47.0" rx="2" stroke-width="3.0" fill="none" />
<ellipse cx="976.0" cy="792.0" rx="3.0" ry="3.5" stroke-width="1.5" fill="none" />
<ellipse cx="976.0" cy="803.5" rx="3.0" ry="3.5" stroke-width="1.5" fill="none" />
<ellipse cx="976.0" cy="815.0" rx="3.0" ry="3.5" stroke-width="1.5" fill="none" />
<ellipse cx="976.0" cy="826.5" rx="3.0" ry="3.5" stroke-width="1.5" fill="none" />
<rect x="982.0" y="798.0" width="10.5" height="23.0" rx="0" stroke-width="2.2" fill="none" />
<rect x="993.0" y="791.5" width="47.0" height="33.5" rx="0" stroke-width="3.0" fill="none" />
<rect x="1069.0" y="791.5" width="9.0" height="33.5" rx="0" stroke-width="2.2" fill="none" />
<rect x="1087.0" y="785.0" width="16.0" height="47.0" rx="4" stroke-width="3.0" fill="none" />
<path d="M1090,796 Q1095,790 1100,796 M1090,821 Q1095,827 1100,821" stroke-width="1.5" fill="none" />
<path d="M1103,797 L1306,799 M1103,820 L1306,822.5" stroke-width="3.0" fill="none" />
<rect x="1306.0" y="793.0" width="19.0" height="37.0" rx="3" stroke-width="3.0" fill="none" />
<line x1="1308.0" y1="810.5" x2="1323.0" y2="810.5" stroke-width="1.5" />
<rect x="1325.0" y="800.0" width="15.0" height="23.0" rx="0" stroke-width="3.0" fill="none" />
<rect x="1340.0" y="804.0" width="11.0" height="14.0" rx="0" stroke-width="2.2" fill="none" />
<rect x="1352.0" y="796.0" width="26.0" height="30.5" rx="0" stroke-width="3.0" fill="none" />
<line x1="1354.0" y1="810.5" x2="1376.0" y2="810.5" stroke-width="1.5" />
<rect x="1378.0" y="803.0" width="7.0" height="15.0" rx="0" stroke-width="1" fill="#000" />
<path d="M1361,795 Q1362,790 1367,790 Q1370,790 1370,795 Z" stroke-width="2" fill="#000" />
<line x1="1385.0" y1="810.5" x2="1414.0" y2="810.5" stroke-width="1.6" />
<polygon points="1361.0,826.0 1368.0,826.0 1370.0,928.0 1361.5,928.0" stroke-width="2.2" fill="none" />
<circle cx="1367.6" cy="941.6" r="12.0" stroke-width="4.5" fill="none" />
<line x1="1355.0" y1="941.6" x2="1380.0" y2="941.6" stroke-width="1.5" />
<path d="M1381,936 L1390,938 Q1400,931 1412,931.5 Q1434,932 1436,942 Q1434,951 1412,952.5 Q1400,953 1390,945 L1381,947 Z" stroke-width="3.2" fill="none" />
<polygon points="1381.0,936.0 1390.0,938.0 1390.0,945.0 1381.0,947.0" stroke-width="1" fill="#000" />
<line x1="1341.0" y1="941.6" x2="1456.0" y2="941.6" stroke-width="1.6" stroke-dasharray="20 4 3 4"/>
<line x1="855.0" y1="1011.0" x2="870.0" y2="1011.0" stroke-width="3" />
<path d="M861.5,1016.7 L852.6,1045.8" stroke-width="5" fill="none" />
<line x1="843.0" y1="1051.5" x2="860.0" y2="1051.5" stroke-width="3" />
<line x1="805.0" y1="1057.0" x2="914.0" y2="1057.0" stroke-width="2.5" />
<path d="M1076,1175.4 L570,1131.3 L463.6,1170.2 L413.6,1273 L468.2,1430.8 L569.5,1398.7" stroke-width="3.8" fill="none" />
<path d="M557.2,1362 L557.2,1282 Q557.2,1260 579.4,1260 L975,1260" stroke-width="3.8" fill="none" />
<path d="M557.5,1362.6 L489.3,1384 L501,1419" stroke-width="3.8" fill="none" />
<path d="M557.5,1362.6 L574,1375" stroke-width="3.8" fill="none" />
<line x1="499.6" y1="1400.4" x2="561.0" y2="1380.0" stroke-width="2.5" />
<ellipse cx="557" cy="1390.5" rx="13.5" ry="8.5" transform="rotate(-18 557 1390.5)" stroke-width="3" fill="none"/>
<line x1="526.0" y1="1385.0" x2="532.0" y2="1406.0" stroke-width="2.5" />
<line x1="522.0" y1="1398.0" x2="545.0" y2="1391.0" stroke-width="2.5" />
<polygon points="510.0,1361.0 528.0,1355.0 534.0,1373.0 516.0,1379.0" stroke-width="2.8" fill="none" />
<line x1="519.5" y1="1358.0" x2="525.0" y2="1376.0" stroke-width="2.2" />
<line x1="514.5" y1="1344.0" x2="522.0" y2="1366.0" stroke-width="2.5" />
<line x1="540.4" y1="1411.5" x2="544.9" y2="1423.4" stroke-width="2.5" />
<circle cx="1016.0" cy="1223.0" r="22.8" stroke-width="3.5" fill="none" />
<path d="M973.5,1258 Q990,1275 1016,1274 A51,51 0 0,0 1066,1223 A51,51 0 0,0 1041,1177" stroke-width="3.8" fill="none" />
<path d="M977.7,1255.1 A50,50 0 0,1 1003.1,1174.7" stroke-width="2.2" fill="none" stroke-dasharray="16 10"/>
<line x1="1066.0" y1="1248.0" x2="1093.0" y2="1221.0" stroke-width="3.5" />
<line x1="992.0" y1="1157.0" x2="1038.0" y2="1287.0" stroke-width="1.6" />
<path d="M1076,1175.4 Q1102,1195 1093,1221" stroke-width="3.5" fill="none" />
<path d="M1076,1175.4 L1171,1143 L1177,1145 L1188,1145.7 L1222,1134.6" stroke-width="3.5" fill="none" />
<path d="M1093,1221 L1188.4,1187.7 L1197,1172 L1236,1160" stroke-width="3.5" fill="none" />
<line x1="1171.0" y1="1143.0" x2="1188.4" y2="1187.7" stroke-width="2.5" />
<line x1="1178.0" y1="1146.0" x2="1195.0" y2="1185.0" stroke-width="2.5" />
<polygon points="1218.0,1121.0 1242.8,1113.6 1260.0,1165.5 1237.8,1172.9" stroke-width="3.8" fill="none" />
<line x1="1224.0" y1="1120.0" x2="1242.0" y2="1170.0" stroke-width="2.5" />
<line x1="380.5" y1="1442.0" x2="1232.0" y2="1150.0" stroke-width="1.8" stroke-dasharray="150 7 4 7"/>
<line x1="1260.0" y1="1136.0" x2="1330.0" y2="1113.0" stroke-width="1.6" />
<polygon points="1344.0,1108.6 1318.0,1111.0 1322.0,1122.0" stroke-width="1" fill="#000" />
<line x1="416.0" y1="1223.6" x2="1129.0" y2="1223.6" stroke-width="1.6" stroke-dasharray="40 6 4 6"/>
<text x="378.0" y="1165.6" font-family="Liberation Sans, sans-serif" font-size="30" font-weight="normal" font-style="normal" textLength="18.0" lengthAdjust="spacingAndGlyphs" >2</text>
<path d="M374.7,1171.7 L412.6,1171.7 L470,1228" stroke-width="1.6" fill="none" />
<line x1="470.0" y1="1228.0" x2="583.0" y2="1338.0" stroke-width="1.6" stroke-dasharray="22 8"/>
<text x="0" y="0" font-family="Liberation Sans, sans-serif" font-size="30" font-style="italic" transform="translate(365,1310) rotate(-90)" textLength="76" lengthAdjust="spacingAndGlyphs">a - 20</text>
<line x1="372.0" y1="1237.0" x2="372.0" y2="1300.0" stroke-width="1.6" />
<polygon points="372.0,1325.8 368.0,1300.0 376.0,1300.0" stroke-width="1" fill="#000" />
<line x1="372.0" y1="1325.8" x2="372.0" y2="1377.0" stroke-width="1.6" />
<polygon points="372.0,1377.0 368.0,1402.0 376.0,1402.0" stroke-width="1" fill="#000" />
<line x1="372.0" y1="1402.0" x2="372.0" y2="1410.0" stroke-width="1.6" />
<line x1="354.6" y1="1325.8" x2="577.0" y2="1325.8" stroke-width="1.6" />
<line x1="360.8" y1="1377.0" x2="577.0" y2="1377.0" stroke-width="1.6" stroke-dasharray="14 6"/>
<path d="M386.7,1378 Q392,1405 394,1436" stroke-width="1.6" fill="none" />
<polygon points="386.7,1377.0 383.0,1402.0 391.0,1401.0" stroke-width="1" fill="#000" />
<polygon points="395.0,1437.0 389.0,1412.0 397.0,1412.0" stroke-width="1" fill="#000" />
<path d="M386.7,1403.6 L339.8,1481.5 L451,1481.5" stroke-width="2.5" fill="none" />
<text x="370.0" y="1476.0" font-family="Liberation Sans, sans-serif" font-size="32" font-weight="normal" font-style="italic" textLength="96.0" lengthAdjust="spacingAndGlyphs" stroke="#000" stroke-width="0.6">α = 18°</text>
<circle cx="498.0" cy="1489.0" r="1.8" stroke-width="1" fill="#000" />
<defs><clipPath id="blk"><rect x="577" y="1325.7" width="558" height="175.3"/></clipPath></defs>
<g clip-path="url(#blk)">
<line x1="408.0" y1="1325.7" x2="232.7" y2="1501.0" stroke-width="2.2" />
<line x1="472.5" y1="1325.7" x2="297.2" y2="1501.0" stroke-width="2.2" />
<line x1="537.0" y1="1325.7" x2="361.7" y2="1501.0" stroke-width="2.2" />
<line x1="601.5" y1="1325.7" x2="426.2" y2="1501.0" stroke-width="2.2" />
<line x1="666.0" y1="1325.7" x2="490.7" y2="1501.0" stroke-width="2.2" />
<line x1="730.5" y1="1325.7" x2="555.2" y2="1501.0" stroke-width="2.2" />
<line x1="795.0" y1="1325.7" x2="619.7" y2="1501.0" stroke-width="2.2" />
<line x1="859.5" y1="1325.7" x2="684.2" y2="1501.0" stroke-width="2.2" />
<line x1="924.0" y1="1325.7" x2="748.7" y2="1501.0" stroke-width="2.2" />
<line x1="988.5" y1="1325.7" x2="813.2" y2="1501.0" stroke-width="2.2" />
<line x1="1053.0" y1="1325.7" x2="877.7" y2="1501.0" stroke-width="2.2" />
<line x1="1117.5" y1="1325.7" x2="942.2" y2="1501.0" stroke-width="2.2" />
<line x1="1182.0" y1="1325.7" x2="1006.7" y2="1501.0" stroke-width="2.2" />
<line x1="1246.5" y1="1325.7" x2="1071.2" y2="1501.0" stroke-width="2.2" />
<line x1="1311.0" y1="1325.7" x2="1135.7" y2="1501.0" stroke-width="2.2" />
<line x1="1375.5" y1="1325.7" x2="1200.2" y2="1501.0" stroke-width="2.2" />
<line x1="1440.0" y1="1325.7" x2="1264.7" y2="1501.0" stroke-width="2.2" />
<line x1="1504.5" y1="1325.7" x2="1329.2" y2="1501.0" stroke-width="2.2" />
<line x1="588.0" y1="1325.7" x2="577.0" y2="1336.7" stroke-width="2.8" />
<line x1="599.5" y1="1325.7" x2="577.0" y2="1348.2" stroke-width="2.8" />
<line x1="611.0" y1="1325.7" x2="577.0" y2="1359.7" stroke-width="2.8" />
<line x1="622.5" y1="1325.7" x2="577.0" y2="1371.2" stroke-width="2.8" />
<line x1="634.0" y1="1325.7" x2="577.0" y2="1382.7" stroke-width="2.8" />
<line x1="645.5" y1="1325.7" x2="577.0" y2="1394.2" stroke-width="2.8" />
<line x1="657.0" y1="1325.7" x2="577.0" y2="1405.7" stroke-width="2.8" />
<polygon points="577.0,1326.0 657.0,1326.0 577.0,1397.0" stroke-width="2.5" fill="none" />
<polygon points="577.0,1326.0 600.0,1326.0 577.0,1349.0" stroke-width="1" fill="#000" />
<rect x="823.3" y="1419.5" width="13.0" height="7.2" rx="2" transform="rotate(-47 829.8 1423.1)" stroke-width="2.8" fill="none"/>
<polygon points="931.8,1454.6 921.0,1466.1 917.3,1461.0" stroke-width="2.8" fill="none" />
<rect x="601.8" y="1485.1" width="13.5" height="6.3" rx="2" transform="rotate(-37 608.6 1488.3)" stroke-width="2.8" fill="none"/>
<polygon points="595.6,1410.9 596.0,1426.3 589.2,1424.8" stroke-width="2.8" fill="none" />
<polygon points="829.7,1460.8 820.0,1475.5 814.5,1469.7" stroke-width="2.8" fill="none" />
<rect x="729.0" y="1487.3" width="13.8" height="6.6" rx="2" transform="rotate(-28 735.9 1490.6)" stroke-width="2.8" fill="none"/>
<polygon points="717.2,1376.4 704.4,1389.4 700.3,1383.0" stroke-width="2.8" fill="none" />
<polygon points="1106.8,1461.3 1101.9,1476.4 1094.1,1470.7" stroke-width="2.8" fill="none" />
<polygon points="802.5,1339.3 801.3,1357.5 794.5,1355.7" stroke-width="2.8" fill="none" />
<ellipse cx="640.5" cy="1345.9" rx="7.1" ry="4.2" transform="rotate(-61 640.5 1345.9)" stroke-width="2.8" fill="none"/>
<polygon points="684.1,1456.8 690.8,1440.7 696.2,1444.2" stroke-width="2.8" fill="none" />
<rect x="1012.8" y="1379.8" width="12.6" height="7.7" rx="2" transform="rotate(-59 1019.0 1383.6)" stroke-width="2.8" fill="none"/>
<rect x="925.9" y="1348.4" width="12.0" height="7.5" rx="2" transform="rotate(-59 931.9 1352.2)" stroke-width="2.8" fill="none"/>
<polygon points="766.2,1375.8 764.3,1390.7 756.6,1387.4" stroke-width="2.8" fill="none" />
<rect x="779.7" y="1402.8" width="13.3" height="7.7" rx="2" transform="rotate(-46 786.3 1406.6)" stroke-width="2.8" fill="none"/>
<rect x="678.5" y="1357.3" width="12.0" height="6.4" rx="2" transform="rotate(-29 684.5 1360.5)" stroke-width="2.8" fill="none"/>
<polygon points="991.0,1475.0 981.6,1491.9 974.7,1485.4" stroke-width="2.8" fill="none" />
<ellipse cx="1104.9" cy="1373.5" rx="7.6" ry="4.4" transform="rotate(-57 1104.9 1373.5)" stroke-width="2.8" fill="none"/>
<ellipse cx="744.2" cy="1363.8" rx="6.5" ry="4.3" transform="rotate(-67 744.2 1363.8)" stroke-width="2.8" fill="none"/>
<polygon points="698.7,1331.6 696.1,1347.9 690.3,1345.8" stroke-width="2.8" fill="none" />
<polygon points="901.1,1350.6 891.2,1367.0 884.3,1359.8" stroke-width="2.8" fill="none" />
<rect x="597.5" y="1336.4" width="14.9" height="6.0" rx="2" transform="rotate(-35 604.9 1339.5)" stroke-width="2.8" fill="none"/>
<ellipse cx="928.9" cy="1411.1" rx="8.0" ry="3.6" transform="rotate(-54 928.9 1411.1)" stroke-width="2.8" fill="none"/>
<rect x="873.4" y="1446.6" width="13.8" height="7.6" rx="2" transform="rotate(-33 880.3 1450.4)" stroke-width="2.8" fill="none"/>
<rect x="948.2" y="1471.8" width="14.2" height="7.7" rx="2" transform="rotate(-49 955.3 1475.7)" stroke-width="2.8" fill="none"/>
<rect x="924.4" y="1486.2" width="12.6" height="7.5" rx="2" transform="rotate(-34 930.6 1490.0)" stroke-width="2.8" fill="none"/>
<ellipse cx="899.1" cy="1404.7" rx="7.5" ry="3.5" transform="rotate(-66 899.1 1404.7)" stroke-width="2.8" fill="none"/>
<rect x="848.5" y="1428.2" width="11.0" height="6.6" rx="2" transform="rotate(-57 854.0 1431.5)" stroke-width="2.8" fill="none"/>
<polygon points="956.7,1360.3 949.9,1378.0 942.7,1373.2" stroke-width="2.8" fill="none" />
<polygon points="769.2,1435.4 757.5,1447.5 752.9,1439.4" stroke-width="2.8" fill="none" />
<ellipse cx="853.6" cy="1465.9" rx="7.9" ry="3.9" transform="rotate(-34 853.6 1465.9)" stroke-width="2.8" fill="none"/>
<ellipse cx="852.2" cy="1385.4" rx="6.9" ry="3.6" transform="rotate(-21 852.2 1385.4)" stroke-width="2.8" fill="none"/>
<polygon points="606.9,1453.7 605.4,1437.5 614.4,1439.3" stroke-width="2.8" fill="none" />
<ellipse cx="831.2" cy="1340.5" rx="6.3" ry="3.6" transform="rotate(-58 831.2 1340.5)" stroke-width="2.8" fill="none"/>
<ellipse cx="1021.2" cy="1484.6" rx="7.0" ry="3.8" transform="rotate(-60 1021.2 1484.6)" stroke-width="2.8" fill="none"/>
<ellipse cx="732.8" cy="1390.0" rx="7.2" ry="4.6" transform="rotate(-44 732.8 1390.0)" stroke-width="2.8" fill="none"/>
<rect x="790.7" y="1455.2" width="14.7" height="7.4" rx="2" transform="rotate(-66 798.1 1458.9)" stroke-width="2.8" fill="none"/>
<rect x="1053.2" y="1456.4" width="13.6" height="6.4" rx="2" transform="rotate(-47 1060.0 1459.6)" stroke-width="2.8" fill="none"/>
<rect x="694.4" y="1471.8" width="13.1" height="7.6" rx="2" transform="rotate(-21 701.0 1475.6)" stroke-width="2.8" fill="none"/>
<rect x="753.0" y="1473.7" width="11.3" height="6.9" rx="2" transform="rotate(-53 758.7 1477.1)" stroke-width="2.8" fill="none"/>
<ellipse cx="1022.1" cy="1346.6" rx="6.7" ry="4.7" transform="rotate(-61 1022.1 1346.6)" stroke-width="2.8" fill="none"/>
<rect x="1089.8" y="1409.2" width="11.9" height="7.1" rx="2" transform="rotate(-66 1095.8 1412.7)" stroke-width="2.8" fill="none"/>
<polygon points="879.2,1408.8 874.3,1422.9 866.6,1416.8" stroke-width="2.8" fill="none" />
<polygon points="661.3,1451.9 652.6,1464.5 647.9,1459.4" stroke-width="2.8" fill="none" />
<polygon points="1066.7,1348.9 1065.4,1366.8 1058.7,1364.9" stroke-width="2.8" fill="none" />
<polygon points="947.6,1343.4 960.9,1331.2 965.3,1339.8" stroke-width="2.8" fill="none" />
<polygon points="763.7,1400.8 764.8,1417.5 756.5,1415.9" stroke-width="2.8" fill="none" />
<polygon points="1037.9,1372.9 1040.6,1355.0 1047.8,1357.7" stroke-width="2.8" fill="none" />
<rect x="855.4" y="1335.2" width="13.8" height="7.7" rx="2" transform="rotate(-30 862.3 1339.1)" stroke-width="2.8" fill="none"/>
<ellipse cx="987.3" cy="1456.7" rx="7.8" ry="4.8" transform="rotate(-50 987.3 1456.7)" stroke-width="2.8" fill="none"/>
<ellipse cx="998.5" cy="1399.3" rx="6.7" ry="4.2" transform="rotate(-66 998.5 1399.3)" stroke-width="2.8" fill="none"/>
<polygon points="599.3,1387.6 585.8,1398.7 582.5,1392.5" stroke-width="2.8" fill="none" />
<polygon points="788.1,1494.8 801.9,1483.1 805.8,1491.2" stroke-width="2.8" fill="none" />
<polygon points="619.5,1363.2 608.7,1373.5 605.2,1367.5" stroke-width="2.8" fill="none" />
<polygon points="898.3,1483.6 888.3,1499.0 883.7,1494.7" stroke-width="2.8" fill="none" />
<polygon points="737.3,1454.1 736.9,1439.7 743.7,1441.1" stroke-width="2.8" fill="none" />
<rect x="1088.6" y="1344.1" width="12.9" height="7.9" rx="2" transform="rotate(-49 1095.1 1348.0)" stroke-width="2.8" fill="none"/>
<rect x="710.9" y="1413.5" width="12.9" height="8.0" rx="2" transform="rotate(-34 717.4 1417.5)" stroke-width="2.8" fill="none"/>
<polygon points="836.3,1361.3 829.6,1376.8 824.2,1373.2" stroke-width="2.8" fill="none" />
<ellipse cx="1123.7" cy="1483.7" rx="6.2" ry="4.8" transform="rotate(-58 1123.7 1483.7)" stroke-width="2.8" fill="none"/>
<polygon points="1013.8,1427.3 1007.0,1441.8 1000.4,1436.1" stroke-width="2.8" fill="none" />
<polygon points="953.4,1414.3 951.3,1430.5 943.9,1427.6" stroke-width="2.8" fill="none" />
<polygon points="818.8,1384.8 817.2,1403.4 811.1,1401.8" stroke-width="2.8" fill="none" />
<polygon points="745.2,1336.4 732.1,1347.6 728.4,1340.2" stroke-width="2.8" fill="none" />
<polygon points="1114.2,1435.0 1104.5,1449.3 1098.7,1442.6" stroke-width="2.8" fill="none" />
<polygon points="1071.7,1479.6 1060.8,1492.9 1055.7,1485.8" stroke-width="2.8" fill="none" />
<polygon points="691.9,1410.7 697.6,1392.5 703.2,1395.3" stroke-width="2.8" fill="none" />
<ellipse cx="971.5" cy="1392.2" rx="6.8" ry="4.2" transform="rotate(-65 971.5 1392.2)" stroke-width="2.8" fill="none"/>
<polygon points="873.7,1390.0 876.2,1373.7 884.1,1377.2" stroke-width="2.8" fill="none" />
<polygon points="945.9,1451.9 953.3,1436.9 960.1,1443.3" stroke-width="2.8" fill="none" />
<polygon points="669.7,1478.9 661.0,1493.2 655.6,1487.9" stroke-width="2.8" fill="none" />
<ellipse cx="847.8" cy="1490.2" rx="6.8" ry="4.2" transform="rotate(-27 847.8 1490.2)" stroke-width="2.8" fill="none"/>
<ellipse cx="980.6" cy="1428.9" rx="7.2" ry="3.6" transform="rotate(-55 980.6 1428.9)" stroke-width="2.8" fill="none"/>
<rect x="754.8" y="1343.0" width="12.6" height="6.7" rx="2" transform="rotate(-29 761.0 1346.4)" stroke-width="2.8" fill="none"/>
<polygon points="636.3,1480.3 636.7,1497.4 628.7,1495.6" stroke-width="2.8" fill="none" />
<polygon points="671.2,1332.1 668.0,1348.4 660.9,1345.2" stroke-width="2.8" fill="none" />
<polygon points="1036.9,1450.6 1034.3,1466.9 1027.4,1464.1" stroke-width="2.8" fill="none" />
<polygon points="982.7,1350.6 989.6,1333.2 995.2,1336.6" stroke-width="2.8" fill="none" />
<polygon points="799.9,1366.2 801.0,1381.5 792.7,1379.8" stroke-width="2.8" fill="none" />
<ellipse cx="1119.0" cy="1344.2" rx="6.1" ry="3.9" transform="rotate(-64 1119.0 1344.2)" stroke-width="2.8" fill="none"/>
<ellipse cx="797.1" cy="1432.0" rx="6.8" ry="4.5" transform="rotate(-21 797.1 1432.0)" stroke-width="2.8" fill="none"/>
<rect x="914.3" y="1376.0" width="15.0" height="6.9" rx="2" transform="rotate(-27 921.8 1379.5)" stroke-width="2.8" fill="none"/>
<rect x="1111.9" y="1399.4" width="12.6" height="7.4" rx="2" transform="rotate(-59 1118.3 1403.1)" stroke-width="2.8" fill="none"/>
<ellipse cx="978.2" cy="1367.1" rx="6.0" ry="4.0" transform="rotate(-48 978.2 1367.1)" stroke-width="2.8" fill="none"/>
<polygon points="643.6,1370.7 630.6,1383.7 626.4,1377.2" stroke-width="2.8" fill="none" />
<polygon points="906.5,1434.3 906.9,1452.0 897.5,1449.5" stroke-width="2.8" fill="none" />
<polygon points="635.3,1451.8 632.1,1470.3 623.7,1466.5" stroke-width="2.8" fill="none" />
<polygon points="1082.3,1433.8 1080.5,1450.1 1072.3,1446.8" stroke-width="2.8" fill="none" />
<polygon points="912.8,1330.7 912.8,1348.1 905.7,1346.6" stroke-width="2.8" fill="none" />
<polygon points="667.8,1363.5 653.8,1373.6 651.2,1368.1" stroke-width="2.8" fill="none" />
<circle cx="794.1" cy="1390.7" r="2.2" stroke-width="0" fill="#000" stroke="none"/>
<circle cx="784.0" cy="1382.8" r="2.3" stroke-width="0" fill="#000" stroke="none"/>
<circle cx="905.5" cy="1469.6" r="2.5" stroke-width="0" fill="#000" stroke="none"/>
<circle cx="590.3" cy="1457.4" r="2.4" stroke-width="0" fill="#000" stroke="none"/>
<circle cx="754.8" cy="1458.0" r="2.8" stroke-width="0" fill="#000" stroke="none"/>
<circle cx="911.3" cy="1489.3" r="3.0" stroke-width="0" fill="#000" stroke="none"/>
<circle cx="609.9" cy="1399.4" r="2.6" stroke-width="0" fill="#000" stroke="none"/>
<circle cx="951.6" cy="1386.9" r="2.6" stroke-width="0" fill="#000" stroke="none"/>
<circle cx="592.7" cy="1476.1" r="2.5" stroke-width="0" fill="#000" stroke="none"/>
<circle cx="1052.2" cy="1340.3" r="2.8" stroke-width="0" fill="#000" stroke="none"/>
<circle cx="919.7" cy="1430.0" r="2.9" stroke-width="0" fill="#000" stroke="none"/>
<circle cx="609.2" cy="1409.8" r="2.5" stroke-width="0" fill="#000" stroke="none"/>
<circle cx="985.0" cy="1382.1" r="2.9" stroke-width="0" fill="#000" stroke="none"/>
<circle cx="585.9" cy="1368.6" r="2.8" stroke-width="0" fill="#000" stroke="none"/>
<circle cx="970.7" cy="1451.9" r="2.2" stroke-width="0" fill="#000" stroke="none"/>
<circle cx="806.8" cy="1409.4" r="2.5" stroke-width="0" fill="#000" stroke="none"/>
<circle cx="1092.5" cy="1480.8" r="2.9" stroke-width="0" fill="#000" stroke="none"/>
<circle cx="1125.5" cy="1383.0" r="2.2" stroke-width="0" fill="#000" stroke="none"/>
<circle cx="714.8" cy="1460.9" r="2.9" stroke-width="0" fill="#000" stroke="none"/>
<circle cx="974.7" cy="1409.4" r="2.8" stroke-width="0" fill="#000" stroke="none"/>
<circle cx="1002.5" cy="1415.4" r="2.4" stroke-width="0" fill="#000" stroke="none"/>
<circle cx="1041.1" cy="1338.8" r="2.2" stroke-width="0" fill="#000" stroke="none"/>
<circle cx="826.9" cy="1442.7" r="2.7" stroke-width="0" fill="#000" stroke="none"/>
<circle cx="809.8" cy="1445.9" r="2.9" stroke-width="0" fill="#000" stroke="none"/>
<circle cx="584.6" cy="1468.2" r="2.7" stroke-width="0" fill="#000" stroke="none"/>
<circle cx="1122.0" cy="1429.2" r="2.9" stroke-width="0" fill="#000" stroke="none"/>
<circle cx="1005.2" cy="1494.5" r="2.6" stroke-width="0" fill="#000" stroke="none"/>
<circle cx="774.5" cy="1494.7" r="2.5" stroke-width="0" fill="#000" stroke="none"/>
<circle cx="1072.7" cy="1379.6" r="2.6" stroke-width="0" fill="#000" stroke="none"/>
<circle cx="1124.1" cy="1459.1" r="2.3" stroke-width="0" fill="#000" stroke="none"/>
<circle cx="1087.0" cy="1373.3" r="2.9" stroke-width="0" fill="#000" stroke="none"/>
<circle cx="623.4" cy="1348.0" r="3.0" stroke-width="0" fill="#000" stroke="none"/>
<circle cx="854.0" cy="1405.0" r="2.2" stroke-width="0" fill="#000" stroke="none"/>
<circle cx="870.3" cy="1483.7" r="2.7" stroke-width="0" fill="#000" stroke="none"/>
<circle cx="703.2" cy="1355.9" r="2.2" stroke-width="0" fill="#000" stroke="none"/>
<circle cx="1083.8" cy="1483.4" r="2.6" stroke-width="0" fill="#000" stroke="none"/>
<circle cx="627.1" cy="1390.2" r="2.4" stroke-width="0" fill="#000" stroke="none"/>
<circle cx="725.8" cy="1466.8" r="2.4" stroke-width="0" fill="#000" stroke="none"/>
<circle cx="1081.8" cy="1468.9" r="2.9" stroke-width="0" fill="#000" stroke="none"/>
<circle cx="1023.6" cy="1367.2" r="2.5" stroke-width="0" fill="#000" stroke="none"/>
<circle cx="859.2" cy="1355.7" r="2.7" stroke-width="0" fill="#000" stroke="none"/>
<circle cx="936.1" cy="1435.6" r="2.2" stroke-width="0" fill="#000" stroke="none"/>
<circle cx="1044.6" cy="1486.7" r="2.7" stroke-width="0" fill="#000" stroke="none"/>
<circle cx="597.7" cy="1464.4" r="2.9" stroke-width="0" fill="#000" stroke="none"/>
<circle cx="998.2" cy="1374.1" r="2.9" stroke-width="0" fill="#000" stroke="none"/>
<circle cx="901.1" cy="1374.0" r="2.7" stroke-width="0" fill="#000" stroke="none"/>
<circle cx="714.6" cy="1348.1" r="2.8" stroke-width="0" fill="#000" stroke="none"/>
<circle cx="933.8" cy="1473.7" r="2.8" stroke-width="0" fill="#000" stroke="none"/>
<circle cx="676.2" cy="1437.3" r="2.7" stroke-width="0" fill="#000" stroke="none"/>
<circle cx="836.3" cy="1444.8" r="2.4" stroke-width="0" fill="#000" stroke="none"/>
<circle cx="1104.8" cy="1493.1" r="2.6" stroke-width="0" fill="#000" stroke="none"/>
<circle cx="631.6" cy="1442.6" r="2.8" stroke-width="0" fill="#000" stroke="none"/>
<circle cx="816.5" cy="1491.1" r="2.6" stroke-width="0" fill="#000" stroke="none"/>
<circle cx="778.2" cy="1358.9" r="2.9" stroke-width="0" fill="#000" stroke="none"/>
<circle cx="1117.3" cy="1421.5" r="2.5" stroke-width="0" fill="#000" stroke="none"/>
<circle cx="721.5" cy="1448.8" r="2.5" stroke-width="0" fill="#000" stroke="none"/>
<circle cx="610.9" cy="1466.2" r="2.4" stroke-width="0" fill="#000" stroke="none"/>
<circle cx="592.9" cy="1358.9" r="2.2" stroke-width="0" fill="#000" stroke="none"/>
<circle cx="611.3" cy="1383.5" r="2.6" stroke-width="0" fill="#000" stroke="none"/>
<circle cx="844.8" cy="1349.8" r="2.9" stroke-width="0" fill="#000" stroke="none"/>
<circle cx="731.8" cy="1428.2" r="2.3" stroke-width="0" fill="#000" stroke="none"/>
<circle cx="714.3" cy="1362.5" r="2.6" stroke-width="0" fill="#000" stroke="none"/>
<circle cx="764.7" cy="1495.4" r="2.6" stroke-width="0" fill="#000" stroke="none"/>
<circle cx="683.1" cy="1423.9" r="2.4" stroke-width="0" fill="#000" stroke="none"/>
<circle cx="1005.5" cy="1332.8" r="2.6" stroke-width="0" fill="#000" stroke="none"/>
<circle cx="956.7" cy="1401.6" r="2.8" stroke-width="0" fill="#000" stroke="none"/>
<circle cx="783.6" cy="1333.8" r="2.8" stroke-width="0" fill="#000" stroke="none"/>
<circle cx="912.8" cy="1418.0" r="2.3" stroke-width="0" fill="#000" stroke="none"/>
<circle cx="883.0" cy="1431.5" r="2.5" stroke-width="0" fill="#000" stroke="none"/>
<circle cx="1002.7" cy="1464.6" r="2.8" stroke-width="0" fill="#000" stroke="none"/>
<circle cx="680.5" cy="1379.7" r="2.6" stroke-width="0" fill="#000" stroke="none"/>
<circle cx="839.8" cy="1408.3" r="2.5" stroke-width="0" fill="#000" stroke="none"/>
<circle cx="622.8" cy="1401.2" r="2.6" stroke-width="0" fill="#000" stroke="none"/>
<circle cx="710.8" cy="1433.1" r="2.5" stroke-width="0" fill="#000" stroke="none"/>
<circle cx="1130.0" cy="1421.1" r="2.8" stroke-width="0" fill="#000" stroke="none"/>
<circle cx="583.0" cy="1341.6" r="2.2" stroke-width="0" fill="#000" stroke="none"/>
<circle cx="916.9" cy="1398.9" r="2.7" stroke-width="0" fill="#000" stroke="none"/>
<circle cx="862.0" cy="1399.4" r="2.3" stroke-width="0" fill="#000" stroke="none"/>
<circle cx="832.1" cy="1484.1" r="2.7" stroke-width="0" fill="#000" stroke="none"/>
<circle cx="837.3" cy="1454.4" r="2.8" stroke-width="0" fill="#000" stroke="none"/>
<circle cx="782.0" cy="1452.1" r="2.3" stroke-width="0" fill="#000" stroke="none"/>
<circle cx="998.2" cy="1359.4" r="2.7" stroke-width="0" fill="#000" stroke="none"/>
<circle cx="1013.5" cy="1455.6" r="2.9" stroke-width="0" fill="#000" stroke="none"/>
<circle cx="736.1" cy="1407.7" r="2.4" stroke-width="0" fill="#000" stroke="none"/>
<circle cx="879.1" cy="1343.3" r="2.6" stroke-width="0" fill="#000" stroke="none"/>
<circle cx="693.8" cy="1429.4" r="2.8" stroke-width="0" fill="#000" stroke="none"/>
<circle cx="1020.1" cy="1418.9" r="2.9" stroke-width="0" fill="#000" stroke="none"/>
<circle cx="778.6" cy="1375.5" r="2.7" stroke-width="0" fill="#000" stroke="none"/>
<circle cx="586.5" cy="1492.7" r="2.5" stroke-width="0" fill="#000" stroke="none"/>
<circle cx="775.4" cy="1484.9" r="2.7" stroke-width="0" fill="#000" stroke="none"/>
<circle cx="713.2" cy="1336.2" r="2.8" stroke-width="0" fill="#000" stroke="none"/>
<circle cx="613.5" cy="1427.2" r="2.3" stroke-width="0" fill="#000" stroke="none"/>
<circle cx="643.0" cy="1445.0" r="3.0" stroke-width="0" fill="#000" stroke="none"/>
<circle cx="894.7" cy="1384.7" r="2.3" stroke-width="0" fill="#000" stroke="none"/>
<circle cx="1005.2" cy="1449.4" r="2.3" stroke-width="0" fill="#000" stroke="none"/>
<circle cx="1090.0" cy="1386.8" r="2.5" stroke-width="0" fill="#000" stroke="none"/>
<circle cx="783.3" cy="1366.5" r="2.4" stroke-width="0" fill="#000" stroke="none"/>
<circle cx="726.5" cy="1361.4" r="2.9" stroke-width="0" fill="#000" stroke="none"/>
<circle cx="716.9" cy="1495.1" r="2.8" stroke-width="0" fill="#000" stroke="none"/>
<circle cx="678.0" cy="1389.1" r="2.5" stroke-width="0" fill="#000" stroke="none"/>
<circle cx="1125.2" cy="1373.7" r="2.8" stroke-width="0" fill="#000" stroke="none"/>
<circle cx="1107.5" cy="1390.2" r="2.8" stroke-width="0" fill="#000" stroke="none"/>
<circle cx="817.6" cy="1357.6" r="2.2" stroke-width="0" fill="#000" stroke="none"/>
<circle cx="853.2" cy="1414.9" r="2.5" stroke-width="0" fill="#000" stroke="none"/>
<circle cx="1078.7" cy="1340.8" r="2.4" stroke-width="0" fill="#000" stroke="none"/>
<circle cx="1056.2" cy="1376.3" r="2.4" stroke-width="0" fill="#000" stroke="none"/>
<circle cx="776.2" cy="1462.9" r="2.4" stroke-width="0" fill="#000" stroke="none"/>
<circle cx="963.5" cy="1411.2" r="2.7" stroke-width="0" fill="#000" stroke="none"/>
<circle cx="942.4" cy="1462.5" r="2.7" stroke-width="0" fill="#000" stroke="none"/>
<circle cx="1069.0" cy="1334.8" r="2.8" stroke-width="0" fill="#000" stroke="none"/>
<circle cx="1045.9" cy="1472.8" r="2.4" stroke-width="0" fill="#000" stroke="none"/>
<circle cx="1006.3" cy="1365.6" r="2.5" stroke-width="0" fill="#000" stroke="none"/>
<circle cx="1029.3" cy="1432.0" r="2.6" stroke-width="0" fill="#000" stroke="none"/>
<circle cx="679.8" cy="1479.9" r="2.7" stroke-width="0" fill="#000" stroke="none"/>
<circle cx="892.0" cy="1473.5" r="2.7" stroke-width="0" fill="#000" stroke="none"/>
<circle cx="719.9" cy="1435.9" r="2.5" stroke-width="0" fill="#000" stroke="none"/>
<circle cx="743.7" cy="1416.9" r="2.2" stroke-width="0" fill="#000" stroke="none"/>
<circle cx="911.7" cy="1476.4" r="2.6" stroke-width="0" fill="#000" stroke="none"/>
<circle cx="621.0" cy="1417.2" r="2.5" stroke-width="0" fill="#000" stroke="none"/>
<circle cx="934.3" cy="1390.9" r="2.6" stroke-width="0" fill="#000" stroke="none"/>
<circle cx="1114.4" cy="1455.8" r="2.3" stroke-width="0" fill="#000" stroke="none"/>
<circle cx="872.3" cy="1362.7" r="2.9" stroke-width="0" fill="#000" stroke="none"/>
<circle cx="814.5" cy="1481.0" r="2.6" stroke-width="0" fill="#000" stroke="none"/>
<circle cx="1127.2" cy="1449.6" r="2.8" stroke-width="0" fill="#000" stroke="none"/>
<circle cx="783.7" cy="1476.7" r="2.9" stroke-width="0" fill="#000" stroke="none"/>
<circle cx="721.7" cy="1477.6" r="2.3" stroke-width="0" fill="#000" stroke="none"/>
<circle cx="947.8" cy="1403.4" r="2.2" stroke-width="0" fill="#000" stroke="none"/>
<circle cx="876.3" cy="1353.6" r="2.5" stroke-width="0" fill="#000" stroke="none"/>
<circle cx="883.3" cy="1470.3" r="2.9" stroke-width="0" fill="#000" stroke="none"/>
<circle cx="1086.8" cy="1362.9" r="2.9" stroke-width="0" fill="#000" stroke="none"/>
<circle cx="1008.5" cy="1356.8" r="2.5" stroke-width="0" fill="#000" stroke="none"/>
<circle cx="620.3" cy="1472.6" r="2.6" stroke-width="0" fill="#000" stroke="none"/>
<circle cx="685.3" cy="1493.9" r="2.6" stroke-width="0" fill="#000" stroke="none"/>
<circle cx="962.5" cy="1493.8" r="2.8" stroke-width="0" fill="#000" stroke="none"/>
<circle cx="689.9" cy="1384.7" r="2.7" stroke-width="0" fill="#000" stroke="none"/>
<circle cx="1084.1" cy="1395.8" r="2.7" stroke-width="0" fill="#000" stroke="none"/>
<circle cx="865.8" cy="1493.2" r="2.6" stroke-width="0" fill="#000" stroke="none"/>
<circle cx="671.1" cy="1447.4" r="3.0" stroke-width="0" fill="#000" stroke="none"/>
<circle cx="767.1" cy="1462.9" r="2.6" stroke-width="0" fill="#000" stroke="none"/>
<circle cx="970.6" cy="1469.1" r="2.9" stroke-width="0" fill="#000" stroke="none"/>
<circle cx="582.2" cy="1351.5" r="2.3" stroke-width="0" fill="#000" stroke="none"/>
<circle cx="965.4" cy="1353.1" r="2.7" stroke-width="0" fill="#000" stroke="none"/>
<circle cx="885.9" cy="1337.2" r="2.7" stroke-width="0" fill="#000" stroke="none"/>
<circle cx="702.1" cy="1365.1" r="2.9" stroke-width="0" fill="#000" stroke="none"/>
<circle cx="674.9" cy="1464.1" r="2.3" stroke-width="0" fill="#000" stroke="none"/>
<circle cx="1014.2" cy="1405.2" r="2.6" stroke-width="0" fill="#000" stroke="none"/>
<circle cx="940.2" cy="1380.6" r="2.9" stroke-width="0" fill="#000" stroke="none"/>
<circle cx="583.5" cy="1477.4" r="2.5" stroke-width="0" fill="#000" stroke="none"/>
<circle cx="813.2" cy="1417.9" r="2.6" stroke-width="0" fill="#000" stroke="none"/>
<circle cx="1037.4" cy="1477.8" r="2.6" stroke-width="0" fill="#000" stroke="none"/>
<circle cx="694.3" cy="1491.1" r="2.5" stroke-width="0" fill="#000" stroke="none"/>
<circle cx="708.7" cy="1447.5" r="2.5" stroke-width="0" fill="#000" stroke="none"/>
<circle cx="847.0" cy="1447.7" r="2.6" stroke-width="0" fill="#000" stroke="none"/>
<circle cx="1091.4" cy="1429.1" r="2.6" stroke-width="0" fill="#000" stroke="none"/>
<circle cx="586.6" cy="1433.2" r="2.7" stroke-width="0" fill="#000" stroke="none"/>
<circle cx="596.7" cy="1369.3" r="2.6" stroke-width="0" fill="#000" stroke="none"/>
<circle cx="736.8" cy="1471.6" r="2.2" stroke-width="0" fill="#000" stroke="none"/>
<circle cx="894.5" cy="1460.8" r="2.9" stroke-width="0" fill="#000" stroke="none"/>
<circle cx="825.0" cy="1495.6" r="2.5" stroke-width="0" fill="#000" stroke="none"/>
<circle cx="909.6" cy="1365.6" r="2.6" stroke-width="0" fill="#000" stroke="none"/>
<circle cx="833.1" cy="1389.4" r="2.3" stroke-width="0" fill="#000" stroke="none"/>
<circle cx="817.8" cy="1436.8" r="2.5" stroke-width="0" fill="#000" stroke="none"/>
<circle cx="892.8" cy="1425.8" r="2.9" stroke-width="0" fill="#000" stroke="none"/>
<circle cx="723.5" cy="1351.2" r="2.8" stroke-width="0" fill="#000" stroke="none"/>
<circle cx="1081.9" cy="1493.1" r="2.4" stroke-width="0" fill="#000" stroke="none"/>
<circle cx="907.8" cy="1390.6" r="2.9" stroke-width="0" fill="#000" stroke="none"/>
<circle cx="907.6" cy="1458.9" r="2.3" stroke-width="0" fill="#000" stroke="none"/>
<circle cx="1002.8" cy="1473.7" r="2.7" stroke-width="0" fill="#000" stroke="none"/>
<circle cx="831.4" cy="1402.7" r="2.8" stroke-width="0" fill="#000" stroke="none"/>
<circle cx="815.3" cy="1335.7" r="3.0" stroke-width="0" fill="#000" stroke="none"/>
<circle cx="872.1" cy="1474.3" r="2.8" stroke-width="0" fill="#000" stroke="none"/>
<circle cx="582.0" cy="1448.1" r="2.8" stroke-width="0" fill="#000" stroke="none"/>
<circle cx="1123.2" cy="1361.0" r="2.7" stroke-width="0" fill="#000" stroke="none"/>
<circle cx="851.2" cy="1365.9" r="2.5" stroke-width="0" fill="#000" stroke="none"/>
<circle cx="847.0" cy="1332.6" r="2.3" stroke-width="0" fill="#000" stroke="none"/>
<circle cx="767.4" cy="1364.3" r="2.5" stroke-width="0" fill="#000" stroke="none"/>
<circle cx="622.1" cy="1335.1" r="3.0" stroke-width="0" fill="#000" stroke="none"/>
<circle cx="943.8" cy="1394.6" r="3.0" stroke-width="0" fill="#000" stroke="none"/>
<circle cx="650.0" cy="1495.7" r="2.5" stroke-width="0" fill="#000" stroke="none"/>
<circle cx="646.6" cy="1475.2" r="2.8" stroke-width="0" fill="#000" stroke="none"/>
<circle cx="583.3" cy="1332.4" r="2.4" stroke-width="0" fill="#000" stroke="none"/>
<circle cx="749.1" cy="1394.8" r="2.8" stroke-width="0" fill="#000" stroke="none"/>
<circle cx="780.7" cy="1348.7" r="2.7" stroke-width="0" fill="#000" stroke="none"/>
<circle cx="753.5" cy="1423.2" r="2.9" stroke-width="0" fill="#000" stroke="none"/>
<circle cx="709.2" cy="1489.9" r="2.3" stroke-width="0" fill="#000" stroke="none"/>
<circle cx="591.6" cy="1447.9" r="2.9" stroke-width="0" fill="#000" stroke="none"/>
<circle cx="913.1" cy="1356.4" r="2.3" stroke-width="0" fill="#000" stroke="none"/>
<circle cx="1106.3" cy="1332.1" r="3.0" stroke-width="0" fill="#000" stroke="none"/>
<circle cx="862.7" cy="1446.5" r="2.7" stroke-width="0" fill="#000" stroke="none"/>
<circle cx="725.2" cy="1375.3" r="2.8" stroke-width="0" fill="#000" stroke="none"/>
<line x1="600.0" y1="1377.6" x2="1135.0" y2="1377.6" stroke-width="3.5" stroke-dasharray="48 12"/>
<line x1="600.0" y1="1386.0" x2="1135.0" y2="1386.0" stroke-width="3.5" stroke-dasharray="50 14"/>
<line x1="617.0" y1="1395.0" x2="617.0" y2="1500.0" stroke-width="2.5" stroke-dasharray="30 10"/>
<line x1="627.0" y1="1400.0" x2="627.0" y2="1500.0" stroke-width="2.5" stroke-dasharray="26 12"/>
<line x1="1081.6" y1="1395.0" x2="1081.6" y2="1500.0" stroke-width="2.5" stroke-dasharray="30 10"/>
<line x1="1091.0" y1="1360.0" x2="1091.0" y2="1500.0" stroke-width="2.5" stroke-dasharray="26 12"/>
<rect x="607.0" y="1369.0" width="17.0" height="15.0" rx="0" stroke-width="2.5" fill="none" />
<rect x="1072.0" y="1366.0" width="26.0" height="24.0" rx="0" stroke-width="2.5" fill="none" />
</g>
<circle cx="653.4" cy="1412.0" r="25.0" stroke-width="0" fill="#fff" stroke="none"/>
<clipPath id="rb653"><circle cx="653.4" cy="1412" r="22"/></clipPath>
<g clip-path="url(#rb653)">
<line x1="587.4" y1="1418.0" x2="647.4" y2="1478.0" stroke-width="2" />
<line x1="596.4" y1="1409.0" x2="656.4" y2="1469.0" stroke-width="2" />
<line x1="605.4" y1="1400.0" x2="665.4" y2="1460.0" stroke-width="2" />
<line x1="614.4" y1="1391.0" x2="674.4" y2="1451.0" stroke-width="2" />
<line x1="623.4" y1="1382.0" x2="683.4" y2="1442.0" stroke-width="2" />
<line x1="632.4" y1="1373.0" x2="692.4" y2="1433.0" stroke-width="2" />
<line x1="641.4" y1="1364.0" x2="701.4" y2="1424.0" stroke-width="2" />
<line x1="650.4" y1="1355.0" x2="710.4" y2="1415.0" stroke-width="2" />
<line x1="659.4" y1="1346.0" x2="719.4" y2="1406.0" stroke-width="2" />
</g>
<circle cx="653.4" cy="1412.0" r="22.0" stroke-width="3.5" fill="none" />
<circle cx="1054.2" cy="1410.0" r="26.6" stroke-width="0" fill="#fff" stroke="none"/>
<clipPath id="rb1054"><circle cx="1054.2" cy="1410" r="23.6"/></clipPath>
<g clip-path="url(#rb1054)">
<line x1="988.2" y1="1416.0" x2="1048.2" y2="1476.0" stroke-width="2" />
<line x1="997.2" y1="1407.0" x2="1057.2" y2="1467.0" stroke-width="2" />
<line x1="1006.2" y1="1398.0" x2="1066.2" y2="1458.0" stroke-width="2" />
<line x1="1015.2" y1="1389.0" x2="1075.2" y2="1449.0" stroke-width="2" />
<line x1="1024.2" y1="1380.0" x2="1084.2" y2="1440.0" stroke-width="2" />
<line x1="1033.2" y1="1371.0" x2="1093.2" y2="1431.0" stroke-width="2" />
<line x1="1042.2" y1="1362.0" x2="1102.2" y2="1422.0" stroke-width="2" />
<line x1="1051.2" y1="1353.0" x2="1111.2" y2="1413.0" stroke-width="2" />
<line x1="1060.2" y1="1344.0" x2="1120.2" y2="1404.0" stroke-width="2" />
</g>
<circle cx="1054.2" cy="1410.0" r="23.6" stroke-width="3.5" fill="none" />
<path d="M577,1501 L577,1325.7 L1135,1325.7 L1135,1501" stroke-width="3.8" fill="none" />
<path d="M577,1501 L627,1501 L631,1515 L636,1495 L640,1501 L800,1501 L804,1509 L808,1501 L982,1501 L986,1514 L992,1495 L996,1501 L1135,1501" stroke-width="3" fill="none" />
</svg>
</body></html>
